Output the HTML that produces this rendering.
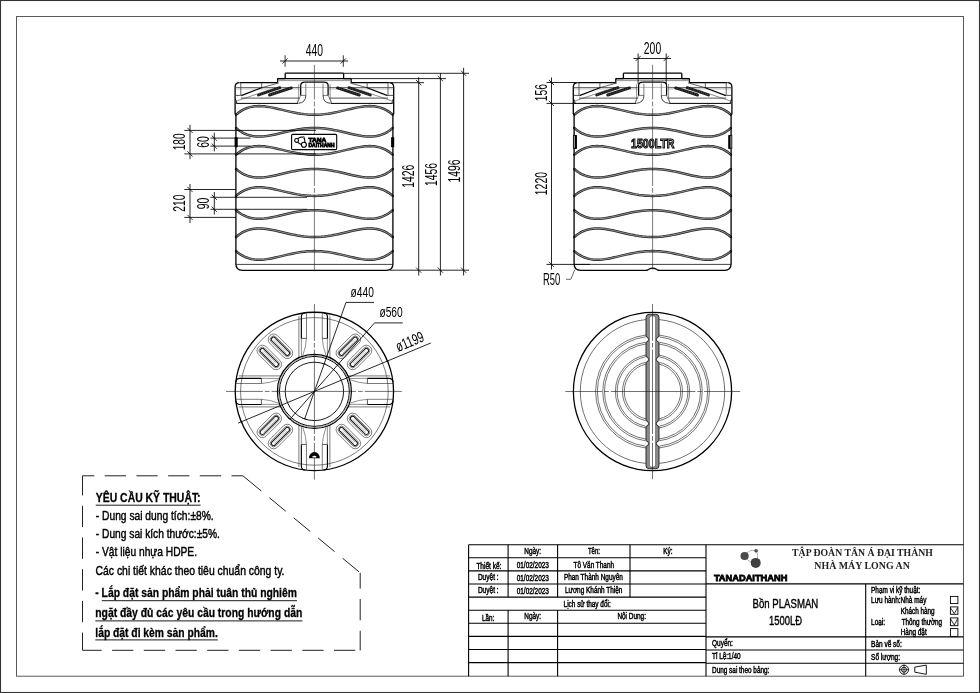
<!DOCTYPE html>
<html><head><meta charset="utf-8"><title>Bon PLASMAN 1500LD</title>
<style>
html,body{margin:0;padding:0;background:#fff;}
body{width:980px;height:693px;overflow:hidden;font-family:"Liberation Sans",sans-serif;}
svg{display:block;filter:grayscale(100%);}
text{white-space:pre;}
</style></head><body>
<svg width="980" height="693" viewBox="0 0 980 693">
<rect x="0" y="0" width="980" height="693" fill="#fff"/>
<rect x="0.5" y="0.5" width="979" height="692" fill="none" stroke="#333" stroke-width="1.1"/>
<rect x="16.5" y="16.5" width="947" height="659.7" fill="none" stroke="#5a5a5a" stroke-width="1"/>
<line x1="468.60" y1="544.70" x2="963.50" y2="544.70" stroke="#000" stroke-width="1.1" />
<line x1="468.60" y1="557.80" x2="706.00" y2="557.80" stroke="#000" stroke-width="1.1" />
<line x1="468.60" y1="570.90" x2="706.00" y2="570.90" stroke="#000" stroke-width="1.1" />
<line x1="468.60" y1="584.00" x2="706.00" y2="584.00" stroke="#000" stroke-width="1.1" />
<line x1="468.60" y1="597.10" x2="706.00" y2="597.10" stroke="#000" stroke-width="1.1" />
<line x1="468.60" y1="610.20" x2="706.00" y2="610.20" stroke="#000" stroke-width="1.1" />
<line x1="468.60" y1="623.30" x2="706.00" y2="623.30" stroke="#000" stroke-width="1.1" />
<line x1="468.60" y1="636.40" x2="706.00" y2="636.40" stroke="#000" stroke-width="1.1" />
<line x1="468.60" y1="649.50" x2="706.00" y2="649.50" stroke="#000" stroke-width="1.1" />
<line x1="468.60" y1="662.60" x2="706.00" y2="662.60" stroke="#000" stroke-width="1.1" />
<line x1="468.60" y1="544.70" x2="468.60" y2="676.20" stroke="#000" stroke-width="1.1" />
<line x1="706.00" y1="544.70" x2="706.00" y2="676.20" stroke="#000" stroke-width="1.1" />
<line x1="508.10" y1="544.70" x2="508.10" y2="597.10" stroke="#000" stroke-width="1.1" />
<line x1="508.10" y1="610.20" x2="508.10" y2="676.20" stroke="#000" stroke-width="1.1" />
<line x1="557.60" y1="544.70" x2="557.60" y2="597.10" stroke="#000" stroke-width="1.1" />
<line x1="557.60" y1="610.20" x2="557.60" y2="676.20" stroke="#000" stroke-width="1.1" />
<line x1="630.00" y1="544.70" x2="630.00" y2="597.10" stroke="#000" stroke-width="1.1" />
<line x1="706.00" y1="583.90" x2="963.50" y2="583.90" stroke="#000" stroke-width="1.1" />
<line x1="706.00" y1="636.90" x2="963.50" y2="636.90" stroke="#000" stroke-width="1.1" />
<line x1="706.00" y1="650.00" x2="963.50" y2="650.00" stroke="#000" stroke-width="1.1" />
<line x1="706.00" y1="663.30" x2="963.50" y2="663.30" stroke="#000" stroke-width="1.1" />
<line x1="865.70" y1="583.90" x2="865.70" y2="676.20" stroke="#000" stroke-width="1.1" />
<text x="524.30" y="553.60" font-family="Liberation Sans" font-size="8.3" font-weight="normal" text-anchor="start" fill="#000" textLength="16.80" lengthAdjust="spacingAndGlyphs" stroke="#000" stroke-width="0.45">Ngày:</text>
<text x="587.90" y="554.00" font-family="Liberation Sans" font-size="8.3" font-weight="normal" text-anchor="start" fill="#000" textLength="12.10" lengthAdjust="spacingAndGlyphs" stroke="#000" stroke-width="0.45">Tên:</text>
<text x="663.30" y="553.60" font-family="Liberation Sans" font-size="8.3" font-weight="normal" text-anchor="start" fill="#000" textLength="9.30" lengthAdjust="spacingAndGlyphs" stroke="#000" stroke-width="0.45">Ký:</text>
<text x="476.40" y="568.60" font-family="Liberation Sans" font-size="8.3" font-weight="normal" text-anchor="start" fill="#000" textLength="25.00" lengthAdjust="spacingAndGlyphs" stroke="#000" stroke-width="0.45">Thiết kế:</text>
<text x="477.90" y="580.00" font-family="Liberation Sans" font-size="8.3" font-weight="normal" text-anchor="start" fill="#000" textLength="20.70" lengthAdjust="spacingAndGlyphs" stroke="#000" stroke-width="0.45">Duyệt :</text>
<text x="477.90" y="593.30" font-family="Liberation Sans" font-size="8.3" font-weight="normal" text-anchor="start" fill="#000" textLength="20.70" lengthAdjust="spacingAndGlyphs" stroke="#000" stroke-width="0.45">Duyệt :</text>
<text x="516.70" y="567.60" font-family="Liberation Sans" font-size="8.3" font-weight="normal" text-anchor="start" fill="#000" textLength="32.20" lengthAdjust="spacingAndGlyphs" stroke="#000" stroke-width="0.45">01/02/2023</text>
<text x="516.70" y="580.70" font-family="Liberation Sans" font-size="8.3" font-weight="normal" text-anchor="start" fill="#000" textLength="32.20" lengthAdjust="spacingAndGlyphs" stroke="#000" stroke-width="0.45">01/02/2023</text>
<text x="516.70" y="593.90" font-family="Liberation Sans" font-size="8.3" font-weight="normal" text-anchor="start" fill="#000" textLength="32.20" lengthAdjust="spacingAndGlyphs" stroke="#000" stroke-width="0.45">01/02/2023</text>
<text x="573.60" y="567.60" font-family="Liberation Sans" font-size="8.3" font-weight="normal" text-anchor="start" fill="#000" textLength="40.40" lengthAdjust="spacingAndGlyphs" stroke="#000" stroke-width="0.45">Tô Văn Thanh</text>
<text x="563.90" y="580.00" font-family="Liberation Sans" font-size="8.3" font-weight="normal" text-anchor="start" fill="#000" textLength="59.00" lengthAdjust="spacingAndGlyphs" stroke="#000" stroke-width="0.45">Phan Thành Nguyên</text>
<text x="565.00" y="593.30" font-family="Liberation Sans" font-size="8.3" font-weight="normal" text-anchor="start" fill="#000" textLength="57.40" lengthAdjust="spacingAndGlyphs" stroke="#000" stroke-width="0.45">Lương Khánh Thiện</text>
<text x="563.60" y="606.70" font-family="Liberation Sans" font-size="8.3" font-weight="normal" text-anchor="start" fill="#000" textLength="47.10" lengthAdjust="spacingAndGlyphs" stroke="#000" stroke-width="0.45">Lịch sử thay đổi:</text>
<text x="482.10" y="621.10" font-family="Liberation Sans" font-size="8.3" font-weight="normal" text-anchor="start" fill="#000" textLength="12.20" lengthAdjust="spacingAndGlyphs" stroke="#000" stroke-width="0.45">Lần:</text>
<text x="524.30" y="619.30" font-family="Liberation Sans" font-size="8.3" font-weight="normal" text-anchor="start" fill="#000" textLength="16.80" lengthAdjust="spacingAndGlyphs" stroke="#000" stroke-width="0.45">Ngày:</text>
<text x="617.40" y="619.30" font-family="Liberation Sans" font-size="8.3" font-weight="normal" text-anchor="start" fill="#000" textLength="28.60" lengthAdjust="spacingAndGlyphs" stroke="#000" stroke-width="0.45">Nội Dung:</text>
<text x="871.10" y="592.90" font-family="Liberation Sans" font-size="8.3" font-weight="normal" text-anchor="start" fill="#000" textLength="49.20" lengthAdjust="spacingAndGlyphs" stroke="#000" stroke-width="0.45">Phạm vi kỹ thuật:</text>
<text x="871.10" y="602.60" font-family="Liberation Sans" font-size="8.3" font-weight="normal" text-anchor="start" fill="#000" textLength="55.30" lengthAdjust="spacingAndGlyphs" stroke="#000" stroke-width="0.45">Lưu hành:Nhà máy</text>
<text x="900.70" y="613.60" font-family="Liberation Sans" font-size="8.3" font-weight="normal" text-anchor="start" fill="#000" textLength="33.90" lengthAdjust="spacingAndGlyphs" stroke="#000" stroke-width="0.45">Khách hàng</text>
<text x="871.10" y="624.70" font-family="Liberation Sans" font-size="8.3" font-weight="normal" text-anchor="start" fill="#000" textLength="13.90" lengthAdjust="spacingAndGlyphs" stroke="#000" stroke-width="0.45">Loại:</text>
<text x="901.70" y="624.70" font-family="Liberation Sans" font-size="8.3" font-weight="normal" text-anchor="start" fill="#000" textLength="40.40" lengthAdjust="spacingAndGlyphs" stroke="#000" stroke-width="0.45">Thông thường</text>
<text x="900.70" y="635.00" font-family="Liberation Sans" font-size="8.3" font-weight="normal" text-anchor="start" fill="#000" textLength="26.00" lengthAdjust="spacingAndGlyphs" stroke="#000" stroke-width="0.45">Hàng đặt</text>
<text x="871.10" y="647.40" font-family="Liberation Sans" font-size="8.3" font-weight="normal" text-anchor="start" fill="#000" textLength="30.60" lengthAdjust="spacingAndGlyphs" stroke="#000" stroke-width="0.45">Bản vẽ số:</text>
<text x="871.10" y="659.60" font-family="Liberation Sans" font-size="8.3" font-weight="normal" text-anchor="start" fill="#000" textLength="28.90" lengthAdjust="spacingAndGlyphs" stroke="#000" stroke-width="0.45">Số lượng:</text>
<text x="712.00" y="646.40" font-family="Liberation Sans" font-size="8.3" font-weight="normal" text-anchor="start" fill="#000" textLength="20.90" lengthAdjust="spacingAndGlyphs" stroke="#000" stroke-width="0.45">Quyển:</text>
<text x="712.00" y="659.30" font-family="Liberation Sans" font-size="8.3" font-weight="normal" text-anchor="start" fill="#000" textLength="28.60" lengthAdjust="spacingAndGlyphs" stroke="#000" stroke-width="0.45">Tỉ Lệ:1/40</text>
<text x="712.00" y="672.70" font-family="Liberation Sans" font-size="8.3" font-weight="normal" text-anchor="start" fill="#000" textLength="57.40" lengthAdjust="spacingAndGlyphs" stroke="#000" stroke-width="0.45">Dung sai theo bảng:</text>
<rect x="950.4" y="596.4" width="7.5" height="7.20" fill="#fff" stroke="#000" stroke-width="0.9"/>
<rect x="950.4" y="606.9" width="7.5" height="7.40" fill="#fff" stroke="#000" stroke-width="0.9"/>
<polyline points="950.8,608.20 954.3,613.70 957.6,607.70" fill="none" stroke="#000" stroke-width="0.8"/>
<rect x="950.4" y="617.9" width="7.5" height="7.80" fill="#fff" stroke="#000" stroke-width="0.9"/>
<polyline points="950.8,619.20 954.3,625.10 957.6,618.70" fill="none" stroke="#000" stroke-width="0.8"/>
<rect x="950.4" y="628.6" width="7.5" height="7.80" fill="#fff" stroke="#000" stroke-width="0.9"/>
<circle cx="904" cy="669.7" r="4.5" fill="none" stroke="#000" stroke-width="0.9"/>
<circle cx="904" cy="669.7" r="2.5" fill="none" stroke="#000" stroke-width="0.9"/>
<line x1="898.80" y1="669.70" x2="909.20" y2="669.70" stroke="#000" stroke-width="0.7" />
<line x1="904.00" y1="664.50" x2="904.00" y2="674.90" stroke="#000" stroke-width="0.7" />
<polygon points="914.8,667.1 926.3,665.1 926.3,674.3 914.8,672.2" fill="none" stroke="#000" stroke-width="0.9"/>
<text x="752.60" y="608.30" font-family="Liberation Sans" font-size="13.4" font-weight="normal" text-anchor="start" fill="#000" textLength="65.70" lengthAdjust="spacingAndGlyphs" stroke="#000" stroke-width="0.4">Bồn PLASMAN</text>
<text x="769.00" y="624.70" font-family="Liberation Sans" font-size="13.4" font-weight="normal" text-anchor="start" fill="#000" textLength="33.10" lengthAdjust="spacingAndGlyphs" stroke="#000" stroke-width="0.4">1500LĐ</text>
<text x="792.10" y="555.80" font-family="Liberation Serif" font-size="9.9" font-weight="bold" text-anchor="start" fill="#222" textLength="140.80" lengthAdjust="spacingAndGlyphs" >TẬP ĐOÀN TÂN Á ĐẠI THÀNH</text>
<text x="814.30" y="568.70" font-family="Liberation Serif" font-size="9.9" font-weight="bold" text-anchor="start" fill="#222" textLength="95.50" lengthAdjust="spacingAndGlyphs" >NHÀ MÁY LONG AN</text>
<text x="713.90" y="580.70" font-family="Liberation Sans" font-size="9.9" font-weight="bold" text-anchor="start" fill="#000" textLength="73.50" lengthAdjust="spacingAndGlyphs" stroke="#000" stroke-width="0.85">TANADAITHANH</text>
<path d="M744.6,556 Q749,548.5 756.1,550.7 Q759.5,556 755.7,562.9 Q748,562.5 744.6,556" fill="none" stroke="#666" stroke-width="0.5"/>
<circle cx="744.6" cy="556" r="4.1" fill="#4a4a4a"/>
<circle cx="755.7" cy="562.9" r="5.0" fill="#404040"/>
<circle cx="756.1" cy="550.7" r="1.5" fill="#555" stroke="#333" stroke-width="0.5"/>
<polyline points="82.50,475.80 82.50,650.20" fill="none" stroke="#222" stroke-width="1.0" stroke-dasharray="21.3 10.4" stroke-dashoffset="1.7"/>
<polyline points="82.50,475.80 242.90,475.80" fill="none" stroke="#222" stroke-width="1.0" stroke-dasharray="21.3 10.4" stroke-dashoffset="9.5"/>
<polyline points="242.90,475.80 360.20,572.80" fill="none" stroke="#222" stroke-width="1.0" stroke-dasharray="23.9 10.4 21.3 10.4 21.3 10.4 21.3 10.4 21.3 10.4" stroke-dashoffset="0.0"/>
<polyline points="360.20,572.80 360.20,650.40" fill="none" stroke="#222" stroke-width="1.0" stroke-dasharray="21.3 10.4" stroke-dashoffset="5.5"/>
<polyline points="82.50,650.30 360.20,650.30" fill="none" stroke="#222" stroke-width="1.0" stroke-dasharray="21.3 10.4" stroke-dashoffset="2.1"/>
<text x="95.80" y="502.20" font-family="Liberation Sans" font-size="13" font-weight="bold" text-anchor="start" fill="#000" textLength="104.80" lengthAdjust="spacingAndGlyphs" stroke="#000" stroke-width="0.3">YÊU CẦU KỸ THUẬT:</text>
<line x1="95.80" y1="505.20" x2="200.60" y2="505.20" stroke="#000" stroke-width="0.9" />
<text x="95.80" y="520.30" font-family="Liberation Sans" font-size="13.4" font-weight="normal" text-anchor="start" fill="#000" textLength="117.90" lengthAdjust="spacingAndGlyphs" stroke="#000" stroke-width="0.45">- Dung sai dung tích:±8%.</text>
<text x="95.80" y="538.20" font-family="Liberation Sans" font-size="13.4" font-weight="normal" text-anchor="start" fill="#000" textLength="124.10" lengthAdjust="spacingAndGlyphs" stroke="#000" stroke-width="0.45">- Dung sai kích thước:±5%.</text>
<text x="95.80" y="555.70" font-family="Liberation Sans" font-size="13.4" font-weight="normal" text-anchor="start" fill="#000" textLength="101.20" lengthAdjust="spacingAndGlyphs" stroke="#000" stroke-width="0.45">- Vật liệu nhựa HDPE.</text>
<text x="95.50" y="575.30" font-family="Liberation Sans" font-size="13.4" font-weight="normal" text-anchor="start" fill="#000" textLength="189.00" lengthAdjust="spacingAndGlyphs" stroke="#000" stroke-width="0.45">Các chi tiết khác theo tiêu chuẩn công ty.</text>
<text x="95.30" y="597.30" font-family="Liberation Sans" font-size="13.2" font-weight="bold" text-anchor="start" fill="#000" textLength="201.60" lengthAdjust="spacingAndGlyphs" stroke="#000" stroke-width="0.3">- Lắp đặt sản phẩm phải tuân thủ nghiêm</text>
<line x1="101.80" y1="600.70" x2="297.00" y2="600.70" stroke="#000" stroke-width="0.9" />
<text x="95.30" y="617.00" font-family="Liberation Sans" font-size="13.2" font-weight="bold" text-anchor="start" fill="#000" textLength="207.00" lengthAdjust="spacingAndGlyphs" stroke="#000" stroke-width="0.3">ngặt đầy đủ các yêu cầu trong hướng dẫn</text>
<line x1="95.30" y1="620.90" x2="302.40" y2="620.90" stroke="#000" stroke-width="0.9" />
<text x="95.30" y="636.50" font-family="Liberation Sans" font-size="13.2" font-weight="bold" text-anchor="start" fill="#000" textLength="122.50" lengthAdjust="spacingAndGlyphs" stroke="#000" stroke-width="0.3">lắp đặt đi kèm sản phẩm.</text>
<line x1="95.30" y1="639.90" x2="217.90" y2="639.90" stroke="#000" stroke-width="0.9" />
<polyline points="236.10,114.70 236.17,114.63 236.40,114.44 236.77,114.12 237.29,113.69 237.96,113.16 238.77,112.55 239.72,111.87 240.82,111.15 242.06,110.40 243.44,109.65 244.95,108.93 246.59,108.25 248.36,107.64 250.26,107.11 252.28,106.68 254.42,106.36 256.67,106.17 259.03,106.10 261.50,106.17 264.07,106.36 266.73,106.68 269.49,107.11 272.33,107.64 275.25,108.25 278.25,108.93 281.31,109.65 284.44,110.40 287.62,111.15 290.85,111.87 294.13,112.55 297.45,113.16 300.80,113.69 304.18,114.12 307.58,114.44 310.98,114.63 314.40,114.70 317.82,114.63 321.22,114.44 324.62,114.12 328.00,113.69 331.35,113.16 334.67,112.55 337.95,111.87 341.18,111.15 344.36,110.40 347.49,109.65 350.55,108.93 353.55,108.25 356.47,107.64 359.31,107.11 362.07,106.68 364.73,106.36 367.30,106.17 369.77,106.10 372.13,106.17 374.38,106.36 376.52,106.68 378.54,107.11 380.44,107.64 382.21,108.25 383.85,108.93 385.36,109.65 386.74,110.40 387.98,111.15 389.08,111.87 390.03,112.55 390.84,113.16 391.51,113.69 392.03,114.12 392.40,114.44 392.63,114.63 392.70,114.70" fill="none" stroke="#262626" stroke-width="2.5" stroke-linecap="round"/>
<polyline points="236.10,114.70 236.17,114.63 236.40,114.44 236.77,114.12 237.29,113.69 237.96,113.16 238.77,112.55 239.72,111.87 240.82,111.15 242.06,110.40 243.44,109.65 244.95,108.93 246.59,108.25 248.36,107.64 250.26,107.11 252.28,106.68 254.42,106.36 256.67,106.17 259.03,106.10 261.50,106.17 264.07,106.36 266.73,106.68 269.49,107.11 272.33,107.64 275.25,108.25 278.25,108.93 281.31,109.65 284.44,110.40 287.62,111.15 290.85,111.87 294.13,112.55 297.45,113.16 300.80,113.69 304.18,114.12 307.58,114.44 310.98,114.63 314.40,114.70 317.82,114.63 321.22,114.44 324.62,114.12 328.00,113.69 331.35,113.16 334.67,112.55 337.95,111.87 341.18,111.15 344.36,110.40 347.49,109.65 350.55,108.93 353.55,108.25 356.47,107.64 359.31,107.11 362.07,106.68 364.73,106.36 367.30,106.17 369.77,106.10 372.13,106.17 374.38,106.36 376.52,106.68 378.54,107.11 380.44,107.64 382.21,108.25 383.85,108.93 385.36,109.65 386.74,110.40 387.98,111.15 389.08,111.87 390.03,112.55 390.84,113.16 391.51,113.69 392.03,114.12 392.40,114.44 392.63,114.63 392.70,114.70" fill="none" stroke="#b8b8b8" stroke-width="0.75"/>
<polyline points="236.10,154.70 236.17,154.63 236.40,154.44 236.77,154.12 237.29,153.69 237.96,153.16 238.77,152.55 239.72,151.87 240.82,151.15 242.06,150.40 243.44,149.65 244.95,148.93 246.59,148.25 248.36,147.64 250.26,147.11 252.28,146.68 254.42,146.36 256.67,146.17 259.03,146.10 261.50,146.17 264.07,146.36 266.73,146.68 269.49,147.11 272.33,147.64 275.25,148.25 278.25,148.93 281.31,149.65 284.44,150.40 287.62,151.15 290.85,151.87 294.13,152.55 297.45,153.16 300.80,153.69 304.18,154.12 307.58,154.44 310.98,154.63 314.40,154.70 317.82,154.63 321.22,154.44 324.62,154.12 328.00,153.69 331.35,153.16 334.67,152.55 337.95,151.87 341.18,151.15 344.36,150.40 347.49,149.65 350.55,148.93 353.55,148.25 356.47,147.64 359.31,147.11 362.07,146.68 364.73,146.36 367.30,146.17 369.77,146.10 372.13,146.17 374.38,146.36 376.52,146.68 378.54,147.11 380.44,147.64 382.21,148.25 383.85,148.93 385.36,149.65 386.74,150.40 387.98,151.15 389.08,151.87 390.03,152.55 390.84,153.16 391.51,153.69 392.03,154.12 392.40,154.44 392.63,154.63 392.70,154.70" fill="none" stroke="#262626" stroke-width="2.5" stroke-linecap="round"/>
<polyline points="236.10,154.70 236.17,154.63 236.40,154.44 236.77,154.12 237.29,153.69 237.96,153.16 238.77,152.55 239.72,151.87 240.82,151.15 242.06,150.40 243.44,149.65 244.95,148.93 246.59,148.25 248.36,147.64 250.26,147.11 252.28,146.68 254.42,146.36 256.67,146.17 259.03,146.10 261.50,146.17 264.07,146.36 266.73,146.68 269.49,147.11 272.33,147.64 275.25,148.25 278.25,148.93 281.31,149.65 284.44,150.40 287.62,151.15 290.85,151.87 294.13,152.55 297.45,153.16 300.80,153.69 304.18,154.12 307.58,154.44 310.98,154.63 314.40,154.70 317.82,154.63 321.22,154.44 324.62,154.12 328.00,153.69 331.35,153.16 334.67,152.55 337.95,151.87 341.18,151.15 344.36,150.40 347.49,149.65 350.55,148.93 353.55,148.25 356.47,147.64 359.31,147.11 362.07,146.68 364.73,146.36 367.30,146.17 369.77,146.10 372.13,146.17 374.38,146.36 376.52,146.68 378.54,147.11 380.44,147.64 382.21,148.25 383.85,148.93 385.36,149.65 386.74,150.40 387.98,151.15 389.08,151.87 390.03,152.55 390.84,153.16 391.51,153.69 392.03,154.12 392.40,154.44 392.63,154.63 392.70,154.70" fill="none" stroke="#b8b8b8" stroke-width="0.75"/>
<polyline points="236.10,195.90 236.17,195.83 236.40,195.64 236.77,195.32 237.29,194.89 237.96,194.36 238.77,193.75 239.72,193.07 240.82,192.35 242.06,191.60 243.44,190.85 244.95,190.13 246.59,189.45 248.36,188.84 250.26,188.31 252.28,187.88 254.42,187.56 256.67,187.37 259.03,187.30 261.50,187.37 264.07,187.56 266.73,187.88 269.49,188.31 272.33,188.84 275.25,189.45 278.25,190.13 281.31,190.85 284.44,191.60 287.62,192.35 290.85,193.07 294.13,193.75 297.45,194.36 300.80,194.89 304.18,195.32 307.58,195.64 310.98,195.83 314.40,195.90 317.82,195.83 321.22,195.64 324.62,195.32 328.00,194.89 331.35,194.36 334.67,193.75 337.95,193.07 341.18,192.35 344.36,191.60 347.49,190.85 350.55,190.13 353.55,189.45 356.47,188.84 359.31,188.31 362.07,187.88 364.73,187.56 367.30,187.37 369.77,187.30 372.13,187.37 374.38,187.56 376.52,187.88 378.54,188.31 380.44,188.84 382.21,189.45 383.85,190.13 385.36,190.85 386.74,191.60 387.98,192.35 389.08,193.07 390.03,193.75 390.84,194.36 391.51,194.89 392.03,195.32 392.40,195.64 392.63,195.83 392.70,195.90" fill="none" stroke="#262626" stroke-width="2.5" stroke-linecap="round"/>
<polyline points="236.10,195.90 236.17,195.83 236.40,195.64 236.77,195.32 237.29,194.89 237.96,194.36 238.77,193.75 239.72,193.07 240.82,192.35 242.06,191.60 243.44,190.85 244.95,190.13 246.59,189.45 248.36,188.84 250.26,188.31 252.28,187.88 254.42,187.56 256.67,187.37 259.03,187.30 261.50,187.37 264.07,187.56 266.73,187.88 269.49,188.31 272.33,188.84 275.25,189.45 278.25,190.13 281.31,190.85 284.44,191.60 287.62,192.35 290.85,193.07 294.13,193.75 297.45,194.36 300.80,194.89 304.18,195.32 307.58,195.64 310.98,195.83 314.40,195.90 317.82,195.83 321.22,195.64 324.62,195.32 328.00,194.89 331.35,194.36 334.67,193.75 337.95,193.07 341.18,192.35 344.36,191.60 347.49,190.85 350.55,190.13 353.55,189.45 356.47,188.84 359.31,188.31 362.07,187.88 364.73,187.56 367.30,187.37 369.77,187.30 372.13,187.37 374.38,187.56 376.52,187.88 378.54,188.31 380.44,188.84 382.21,189.45 383.85,190.13 385.36,190.85 386.74,191.60 387.98,192.35 389.08,193.07 390.03,193.75 390.84,194.36 391.51,194.89 392.03,195.32 392.40,195.64 392.63,195.83 392.70,195.90" fill="none" stroke="#b8b8b8" stroke-width="0.75"/>
<polyline points="236.10,237.00 236.17,236.93 236.40,236.74 236.77,236.42 237.29,235.99 237.96,235.46 238.77,234.85 239.72,234.17 240.82,233.45 242.06,232.70 243.44,231.95 244.95,231.23 246.59,230.55 248.36,229.94 250.26,229.41 252.28,228.98 254.42,228.66 256.67,228.47 259.03,228.40 261.50,228.47 264.07,228.66 266.73,228.98 269.49,229.41 272.33,229.94 275.25,230.55 278.25,231.23 281.31,231.95 284.44,232.70 287.62,233.45 290.85,234.17 294.13,234.85 297.45,235.46 300.80,235.99 304.18,236.42 307.58,236.74 310.98,236.93 314.40,237.00 317.82,236.93 321.22,236.74 324.62,236.42 328.00,235.99 331.35,235.46 334.67,234.85 337.95,234.17 341.18,233.45 344.36,232.70 347.49,231.95 350.55,231.23 353.55,230.55 356.47,229.94 359.31,229.41 362.07,228.98 364.73,228.66 367.30,228.47 369.77,228.40 372.13,228.47 374.38,228.66 376.52,228.98 378.54,229.41 380.44,229.94 382.21,230.55 383.85,231.23 385.36,231.95 386.74,232.70 387.98,233.45 389.08,234.17 390.03,234.85 390.84,235.46 391.51,235.99 392.03,236.42 392.40,236.74 392.63,236.93 392.70,237.00" fill="none" stroke="#262626" stroke-width="2.5" stroke-linecap="round"/>
<polyline points="236.10,237.00 236.17,236.93 236.40,236.74 236.77,236.42 237.29,235.99 237.96,235.46 238.77,234.85 239.72,234.17 240.82,233.45 242.06,232.70 243.44,231.95 244.95,231.23 246.59,230.55 248.36,229.94 250.26,229.41 252.28,228.98 254.42,228.66 256.67,228.47 259.03,228.40 261.50,228.47 264.07,228.66 266.73,228.98 269.49,229.41 272.33,229.94 275.25,230.55 278.25,231.23 281.31,231.95 284.44,232.70 287.62,233.45 290.85,234.17 294.13,234.85 297.45,235.46 300.80,235.99 304.18,236.42 307.58,236.74 310.98,236.93 314.40,237.00 317.82,236.93 321.22,236.74 324.62,236.42 328.00,235.99 331.35,235.46 334.67,234.85 337.95,234.17 341.18,233.45 344.36,232.70 347.49,231.95 350.55,231.23 353.55,230.55 356.47,229.94 359.31,229.41 362.07,228.98 364.73,228.66 367.30,228.47 369.77,228.40 372.13,228.47 374.38,228.66 376.52,228.98 378.54,229.41 380.44,229.94 382.21,230.55 383.85,231.23 385.36,231.95 386.74,232.70 387.98,233.45 389.08,234.17 390.03,234.85 390.84,235.46 391.51,235.99 392.03,236.42 392.40,236.74 392.63,236.93 392.70,237.00" fill="none" stroke="#b8b8b8" stroke-width="0.75"/>
<polyline points="236.10,128.00 236.17,128.07 236.40,128.26 236.77,128.58 237.29,129.01 237.96,129.54 238.77,130.15 239.72,130.83 240.82,131.55 242.06,132.30 243.44,133.05 244.95,133.77 246.59,134.45 248.36,135.06 250.26,135.59 252.28,136.02 254.42,136.34 256.67,136.53 259.03,136.60 261.50,136.53 264.07,136.34 266.73,136.02 269.49,135.59 272.33,135.06 275.25,134.45 278.25,133.77 281.31,133.05 284.44,132.30 287.62,131.55 290.85,130.83 294.13,130.15 297.45,129.54 300.80,129.01 304.18,128.58 307.58,128.26 310.98,128.07 314.40,128.00 317.82,128.07 321.22,128.26 324.62,128.58 328.00,129.01 331.35,129.54 334.67,130.15 337.95,130.83 341.18,131.55 344.36,132.30 347.49,133.05 350.55,133.77 353.55,134.45 356.47,135.06 359.31,135.59 362.07,136.02 364.73,136.34 367.30,136.53 369.77,136.60 372.13,136.53 374.38,136.34 376.52,136.02 378.54,135.59 380.44,135.06 382.21,134.45 383.85,133.77 385.36,133.05 386.74,132.30 387.98,131.55 389.08,130.83 390.03,130.15 390.84,129.54 391.51,129.01 392.03,128.58 392.40,128.26 392.63,128.07 392.70,128.00" fill="none" stroke="#262626" stroke-width="2.5" stroke-linecap="round"/>
<polyline points="236.10,128.00 236.17,128.07 236.40,128.26 236.77,128.58 237.29,129.01 237.96,129.54 238.77,130.15 239.72,130.83 240.82,131.55 242.06,132.30 243.44,133.05 244.95,133.77 246.59,134.45 248.36,135.06 250.26,135.59 252.28,136.02 254.42,136.34 256.67,136.53 259.03,136.60 261.50,136.53 264.07,136.34 266.73,136.02 269.49,135.59 272.33,135.06 275.25,134.45 278.25,133.77 281.31,133.05 284.44,132.30 287.62,131.55 290.85,130.83 294.13,130.15 297.45,129.54 300.80,129.01 304.18,128.58 307.58,128.26 310.98,128.07 314.40,128.00 317.82,128.07 321.22,128.26 324.62,128.58 328.00,129.01 331.35,129.54 334.67,130.15 337.95,130.83 341.18,131.55 344.36,132.30 347.49,133.05 350.55,133.77 353.55,134.45 356.47,135.06 359.31,135.59 362.07,136.02 364.73,136.34 367.30,136.53 369.77,136.60 372.13,136.53 374.38,136.34 376.52,136.02 378.54,135.59 380.44,135.06 382.21,134.45 383.85,133.77 385.36,133.05 386.74,132.30 387.98,131.55 389.08,130.83 390.03,130.15 390.84,129.54 391.51,129.01 392.03,128.58 392.40,128.26 392.63,128.07 392.70,128.00" fill="none" stroke="#b8b8b8" stroke-width="0.75"/>
<polyline points="236.10,169.00 236.17,169.07 236.40,169.26 236.77,169.58 237.29,170.01 237.96,170.54 238.77,171.15 239.72,171.83 240.82,172.55 242.06,173.30 243.44,174.05 244.95,174.77 246.59,175.45 248.36,176.06 250.26,176.59 252.28,177.02 254.42,177.34 256.67,177.53 259.03,177.60 261.50,177.53 264.07,177.34 266.73,177.02 269.49,176.59 272.33,176.06 275.25,175.45 278.25,174.77 281.31,174.05 284.44,173.30 287.62,172.55 290.85,171.83 294.13,171.15 297.45,170.54 300.80,170.01 304.18,169.58 307.58,169.26 310.98,169.07 314.40,169.00 317.82,169.07 321.22,169.26 324.62,169.58 328.00,170.01 331.35,170.54 334.67,171.15 337.95,171.83 341.18,172.55 344.36,173.30 347.49,174.05 350.55,174.77 353.55,175.45 356.47,176.06 359.31,176.59 362.07,177.02 364.73,177.34 367.30,177.53 369.77,177.60 372.13,177.53 374.38,177.34 376.52,177.02 378.54,176.59 380.44,176.06 382.21,175.45 383.85,174.77 385.36,174.05 386.74,173.30 387.98,172.55 389.08,171.83 390.03,171.15 390.84,170.54 391.51,170.01 392.03,169.58 392.40,169.26 392.63,169.07 392.70,169.00" fill="none" stroke="#262626" stroke-width="2.5" stroke-linecap="round"/>
<polyline points="236.10,169.00 236.17,169.07 236.40,169.26 236.77,169.58 237.29,170.01 237.96,170.54 238.77,171.15 239.72,171.83 240.82,172.55 242.06,173.30 243.44,174.05 244.95,174.77 246.59,175.45 248.36,176.06 250.26,176.59 252.28,177.02 254.42,177.34 256.67,177.53 259.03,177.60 261.50,177.53 264.07,177.34 266.73,177.02 269.49,176.59 272.33,176.06 275.25,175.45 278.25,174.77 281.31,174.05 284.44,173.30 287.62,172.55 290.85,171.83 294.13,171.15 297.45,170.54 300.80,170.01 304.18,169.58 307.58,169.26 310.98,169.07 314.40,169.00 317.82,169.07 321.22,169.26 324.62,169.58 328.00,170.01 331.35,170.54 334.67,171.15 337.95,171.83 341.18,172.55 344.36,173.30 347.49,174.05 350.55,174.77 353.55,175.45 356.47,176.06 359.31,176.59 362.07,177.02 364.73,177.34 367.30,177.53 369.77,177.60 372.13,177.53 374.38,177.34 376.52,177.02 378.54,176.59 380.44,176.06 382.21,175.45 383.85,174.77 385.36,174.05 386.74,173.30 387.98,172.55 389.08,171.83 390.03,171.15 390.84,170.54 391.51,170.01 392.03,169.58 392.40,169.26 392.63,169.07 392.70,169.00" fill="none" stroke="#b8b8b8" stroke-width="0.75"/>
<polyline points="236.10,210.20 236.17,210.27 236.40,210.46 236.77,210.78 237.29,211.21 237.96,211.74 238.77,212.35 239.72,213.03 240.82,213.75 242.06,214.50 243.44,215.25 244.95,215.97 246.59,216.65 248.36,217.26 250.26,217.79 252.28,218.22 254.42,218.54 256.67,218.73 259.03,218.80 261.50,218.73 264.07,218.54 266.73,218.22 269.49,217.79 272.33,217.26 275.25,216.65 278.25,215.97 281.31,215.25 284.44,214.50 287.62,213.75 290.85,213.03 294.13,212.35 297.45,211.74 300.80,211.21 304.18,210.78 307.58,210.46 310.98,210.27 314.40,210.20 317.82,210.27 321.22,210.46 324.62,210.78 328.00,211.21 331.35,211.74 334.67,212.35 337.95,213.03 341.18,213.75 344.36,214.50 347.49,215.25 350.55,215.97 353.55,216.65 356.47,217.26 359.31,217.79 362.07,218.22 364.73,218.54 367.30,218.73 369.77,218.80 372.13,218.73 374.38,218.54 376.52,218.22 378.54,217.79 380.44,217.26 382.21,216.65 383.85,215.97 385.36,215.25 386.74,214.50 387.98,213.75 389.08,213.03 390.03,212.35 390.84,211.74 391.51,211.21 392.03,210.78 392.40,210.46 392.63,210.27 392.70,210.20" fill="none" stroke="#262626" stroke-width="2.5" stroke-linecap="round"/>
<polyline points="236.10,210.20 236.17,210.27 236.40,210.46 236.77,210.78 237.29,211.21 237.96,211.74 238.77,212.35 239.72,213.03 240.82,213.75 242.06,214.50 243.44,215.25 244.95,215.97 246.59,216.65 248.36,217.26 250.26,217.79 252.28,218.22 254.42,218.54 256.67,218.73 259.03,218.80 261.50,218.73 264.07,218.54 266.73,218.22 269.49,217.79 272.33,217.26 275.25,216.65 278.25,215.97 281.31,215.25 284.44,214.50 287.62,213.75 290.85,213.03 294.13,212.35 297.45,211.74 300.80,211.21 304.18,210.78 307.58,210.46 310.98,210.27 314.40,210.20 317.82,210.27 321.22,210.46 324.62,210.78 328.00,211.21 331.35,211.74 334.67,212.35 337.95,213.03 341.18,213.75 344.36,214.50 347.49,215.25 350.55,215.97 353.55,216.65 356.47,217.26 359.31,217.79 362.07,218.22 364.73,218.54 367.30,218.73 369.77,218.80 372.13,218.73 374.38,218.54 376.52,218.22 378.54,217.79 380.44,217.26 382.21,216.65 383.85,215.97 385.36,215.25 386.74,214.50 387.98,213.75 389.08,213.03 390.03,212.35 390.84,211.74 391.51,211.21 392.03,210.78 392.40,210.46 392.63,210.27 392.70,210.20" fill="none" stroke="#b8b8b8" stroke-width="0.75"/>
<polyline points="236.10,251.10 236.17,251.17 236.40,251.36 236.77,251.68 237.29,252.11 237.96,252.64 238.77,253.25 239.72,253.93 240.82,254.65 242.06,255.40 243.44,256.15 244.95,256.87 246.59,257.55 248.36,258.16 250.26,258.69 252.28,259.12 254.42,259.44 256.67,259.63 259.03,259.70 261.50,259.63 264.07,259.44 266.73,259.12 269.49,258.69 272.33,258.16 275.25,257.55 278.25,256.87 281.31,256.15 284.44,255.40 287.62,254.65 290.85,253.93 294.13,253.25 297.45,252.64 300.80,252.11 304.18,251.68 307.58,251.36 310.98,251.17 314.40,251.10 317.82,251.17 321.22,251.36 324.62,251.68 328.00,252.11 331.35,252.64 334.67,253.25 337.95,253.93 341.18,254.65 344.36,255.40 347.49,256.15 350.55,256.87 353.55,257.55 356.47,258.16 359.31,258.69 362.07,259.12 364.73,259.44 367.30,259.63 369.77,259.70 372.13,259.63 374.38,259.44 376.52,259.12 378.54,258.69 380.44,258.16 382.21,257.55 383.85,256.87 385.36,256.15 386.74,255.40 387.98,254.65 389.08,253.93 390.03,253.25 390.84,252.64 391.51,252.11 392.03,251.68 392.40,251.36 392.63,251.17 392.70,251.10" fill="none" stroke="#262626" stroke-width="2.5" stroke-linecap="round"/>
<polyline points="236.10,251.10 236.17,251.17 236.40,251.36 236.77,251.68 237.29,252.11 237.96,252.64 238.77,253.25 239.72,253.93 240.82,254.65 242.06,255.40 243.44,256.15 244.95,256.87 246.59,257.55 248.36,258.16 250.26,258.69 252.28,259.12 254.42,259.44 256.67,259.63 259.03,259.70 261.50,259.63 264.07,259.44 266.73,259.12 269.49,258.69 272.33,258.16 275.25,257.55 278.25,256.87 281.31,256.15 284.44,255.40 287.62,254.65 290.85,253.93 294.13,253.25 297.45,252.64 300.80,252.11 304.18,251.68 307.58,251.36 310.98,251.17 314.40,251.10 317.82,251.17 321.22,251.36 324.62,251.68 328.00,252.11 331.35,252.64 334.67,253.25 337.95,253.93 341.18,254.65 344.36,255.40 347.49,256.15 350.55,256.87 353.55,257.55 356.47,258.16 359.31,258.69 362.07,259.12 364.73,259.44 367.30,259.63 369.77,259.70 372.13,259.63 374.38,259.44 376.52,259.12 378.54,258.69 380.44,258.16 382.21,257.55 383.85,256.87 385.36,256.15 386.74,255.40 387.98,254.65 389.08,253.93 390.03,253.25 390.84,252.64 391.51,252.11 392.03,251.68 392.40,251.36 392.63,251.17 392.70,251.10" fill="none" stroke="#b8b8b8" stroke-width="0.75"/>
<path d="M239.60,82.6 Q235.10,82.6 235.10,87.1 L235.10,113.8 L235.90,114.6 L235.90,263.8 Q235.90,270.3 242.40,270.3 L386.40,270.3 Q392.90,270.3 392.90,263.8 L392.90,114.6 L393.70,113.8 L393.70,87.1 Q393.70,82.6 389.20,82.6" fill="none" stroke="#000" stroke-width="1.3"/>
<line x1="235.60" y1="264.40" x2="393.20" y2="264.40" stroke="#222" stroke-width="0.85" />
<line x1="239.90" y1="82.60" x2="277.60" y2="82.60" stroke="#000" stroke-width="1.3" />
<line x1="277.60" y1="82.60" x2="277.60" y2="78.60" stroke="#000" stroke-width="1.3" />
<line x1="277.60" y1="78.60" x2="285.20" y2="78.60" stroke="#000" stroke-width="1.3" />
<line x1="285.20" y1="78.60" x2="285.20" y2="73.20" stroke="#000" stroke-width="1.3" />
<line x1="235.40" y1="87.60" x2="299.70" y2="87.60" stroke="#444" stroke-width="0.85" />
<line x1="235.40" y1="89.00" x2="299.70" y2="89.00" stroke="#666" stroke-width="0.4" />
<line x1="235.40" y1="95.40" x2="240.80" y2="95.40" stroke="#333" stroke-width="0.85" />
<line x1="240.80" y1="98.10" x2="299.70" y2="98.10" stroke="#333" stroke-width="0.85" />
<line x1="236.20" y1="103.40" x2="298.10" y2="103.40" stroke="#000" stroke-width="1.0" />
<line x1="240.80" y1="82.60" x2="240.80" y2="95.40" stroke="#444" stroke-width="0.85" />
<line x1="261.70" y1="82.60" x2="261.70" y2="87.60" stroke="#444" stroke-width="0.85" />
<path d="M235.40,99 L236.60,101.5 L236.60,103.2" fill="none" stroke="#000" stroke-width="0.9"/>
<line x1="241.20" y1="95.60" x2="262.40" y2="87.50" stroke="#000" stroke-width="1.2" />
<line x1="262.40" y1="87.50" x2="278.90" y2="82.90" stroke="#222" stroke-width="0.7" />
<line x1="237.20" y1="100.80" x2="268.40" y2="90.20" stroke="#333" stroke-width="0.55" />
<line x1="258.50" y1="95.0" x2="279.80" y2="87.7" stroke="#1c1c1c" stroke-width="2.9" stroke-linecap="round"/>
<line x1="259.00" y1="94.8" x2="279.30" y2="87.9" stroke="#707070" stroke-width="0.8" stroke-dasharray="0.7 1.5"/>
<line x1="269.50" y1="95.0" x2="291.30" y2="87.9" stroke="#1c1c1c" stroke-width="2.9" stroke-linecap="round"/>
<line x1="270.00" y1="94.8" x2="290.80" y2="88.10000000000001" stroke="#707070" stroke-width="0.8" stroke-dasharray="0.7 1.5"/>
<path d="M298.70,84.2 L298.70,98 L297.30,103.3" fill="none" stroke="#333" stroke-width="0.55"/>
<path d="M304.90,82.1 Q300.70,82.1 300.70,85.4 L300.70,95.4" fill="none" stroke="#000" stroke-width="1.25"/>
<path d="M300.70,95.4 L297.30,103.3" fill="none" stroke="#333" stroke-width="0.5"/>
<line x1="305.80" y1="83.60" x2="305.80" y2="95.40" stroke="#222" stroke-width="0.6" />
<line x1="305.80" y1="95.40" x2="300.70" y2="95.40" stroke="#222" stroke-width="0.6" />
<path d="M305.80,95.4 Q305.80,102.6 298.50,103.3" fill="none" stroke="#111" stroke-width="0.8"/>
<line x1="388.90" y1="82.60" x2="351.20" y2="82.60" stroke="#000" stroke-width="1.3" />
<line x1="351.20" y1="82.60" x2="351.20" y2="78.60" stroke="#000" stroke-width="1.3" />
<line x1="351.20" y1="78.60" x2="343.60" y2="78.60" stroke="#000" stroke-width="1.3" />
<line x1="343.60" y1="78.60" x2="343.60" y2="73.20" stroke="#000" stroke-width="1.3" />
<line x1="393.40" y1="87.60" x2="329.10" y2="87.60" stroke="#444" stroke-width="0.85" />
<line x1="393.40" y1="89.00" x2="329.10" y2="89.00" stroke="#666" stroke-width="0.4" />
<line x1="393.40" y1="95.40" x2="388.00" y2="95.40" stroke="#333" stroke-width="0.85" />
<line x1="388.00" y1="98.10" x2="329.10" y2="98.10" stroke="#333" stroke-width="0.85" />
<line x1="392.60" y1="103.40" x2="330.70" y2="103.40" stroke="#000" stroke-width="1.0" />
<line x1="388.00" y1="82.60" x2="388.00" y2="95.40" stroke="#444" stroke-width="0.85" />
<line x1="367.10" y1="82.60" x2="367.10" y2="87.60" stroke="#444" stroke-width="0.85" />
<path d="M393.40,99 L392.20,101.5 L392.20,103.2" fill="none" stroke="#000" stroke-width="0.9"/>
<line x1="387.60" y1="95.60" x2="366.40" y2="87.50" stroke="#000" stroke-width="1.2" />
<line x1="366.40" y1="87.50" x2="349.90" y2="82.90" stroke="#222" stroke-width="0.7" />
<line x1="391.60" y1="100.80" x2="360.40" y2="90.20" stroke="#333" stroke-width="0.55" />
<line x1="370.30" y1="95.0" x2="349.00" y2="87.7" stroke="#1c1c1c" stroke-width="2.9" stroke-linecap="round"/>
<line x1="369.80" y1="94.8" x2="349.50" y2="87.9" stroke="#707070" stroke-width="0.8" stroke-dasharray="0.7 1.5"/>
<line x1="359.30" y1="95.0" x2="337.50" y2="87.9" stroke="#1c1c1c" stroke-width="2.9" stroke-linecap="round"/>
<line x1="358.80" y1="94.8" x2="338.00" y2="88.10000000000001" stroke="#707070" stroke-width="0.8" stroke-dasharray="0.7 1.5"/>
<path d="M330.10,84.2 L330.10,98 L331.50,103.3" fill="none" stroke="#333" stroke-width="0.55"/>
<path d="M323.90,82.1 Q328.10,82.1 328.10,85.4 L328.10,95.4" fill="none" stroke="#000" stroke-width="1.25"/>
<path d="M328.10,95.4 L331.50,103.3" fill="none" stroke="#333" stroke-width="0.5"/>
<line x1="323.00" y1="83.60" x2="323.00" y2="95.40" stroke="#222" stroke-width="0.6" />
<line x1="323.00" y1="95.40" x2="328.10" y2="95.40" stroke="#222" stroke-width="0.6" />
<path d="M323.00,95.4 Q323.00,102.6 330.30,103.3" fill="none" stroke="#111" stroke-width="0.8"/>
<line x1="285.20" y1="73.20" x2="343.60" y2="73.20" stroke="#000" stroke-width="1.3" />
<line x1="277.60" y1="78.60" x2="351.20" y2="78.60" stroke="#000" stroke-width="1.3" />
<line x1="304.90" y1="82.10" x2="323.90" y2="82.10" stroke="#000" stroke-width="1.25" />
<line x1="300.70" y1="87.40" x2="328.10" y2="87.40" stroke="#777" stroke-width="0.5" />
<line x1="277.60" y1="80.60" x2="351.20" y2="80.60" stroke="#777" stroke-width="0.8" />
<line x1="314.4" y1="64.8" x2="314.4" y2="271.2" stroke="#222" stroke-width="0.6" stroke-dasharray="77.7 1.9 4.9 2.0" stroke-dashoffset="43"/>
<rect x="234.6" y="137.2" width="3.1" height="10.0" fill="#000"/>
<rect x="391.1" y="137.2" width="3.1" height="10.0" fill="#000"/>
<rect x="291.6" y="134.4" width="45.1" height="15.2" rx="1.2" fill="#fff" stroke="#000" stroke-width="1.1"/>
<path d="M296.6,140.4 Q299,136.3 303.4,137.2 Q306,140.5 304,144.7 Q299,144.6 296.6,140.4Z" fill="none" stroke="#000" stroke-width="1.1"/>
<circle cx="296.6" cy="140.4" r="1.9" fill="#fff" stroke="#000" stroke-width="1.15"/>
<circle cx="303.9" cy="144.7" r="2.5" fill="#fff" stroke="#000" stroke-width="1.15"/>
<circle cx="303.6" cy="137.4" r="0.8" fill="#fff" stroke="#000" stroke-width="0.6"/>
<text x="308.50" y="141.50" font-family="Liberation Sans" font-size="5.8" font-weight="bold" text-anchor="start" fill="#000" textLength="17.80" lengthAdjust="spacingAndGlyphs" stroke="#000" stroke-width="0.8">TANA</text>
<text x="308.50" y="147.40" font-family="Liberation Sans" font-size="5.9" font-weight="bold" text-anchor="start" fill="#000" textLength="26.00" lengthAdjust="spacingAndGlyphs" stroke="#000" stroke-width="0.8">DAITHANH</text>
<line x1="285.10" y1="55.30" x2="285.10" y2="66.80" stroke="#000" stroke-width="0.8" />
<line x1="343.30" y1="55.30" x2="343.30" y2="66.80" stroke="#000" stroke-width="0.8" />
<line x1="280.00" y1="61.00" x2="348.20" y2="61.00" stroke="#222" stroke-width="1.0" />
<line x1="282.50" y1="63.60" x2="287.70" y2="58.40" stroke="#000" stroke-width="0.8" />
<line x1="340.70" y1="63.60" x2="345.90" y2="58.40" stroke="#000" stroke-width="0.8" />
<text x="314.30" y="56.00" font-family="Liberation Sans" font-size="16.2" font-weight="normal" text-anchor="middle" fill="#000" textLength="17.30" lengthAdjust="spacingAndGlyphs" >440</text>
<line x1="184.30" y1="130.40" x2="316.00" y2="130.40" stroke="#000" stroke-width="0.85" />
<line x1="184.30" y1="153.90" x2="316.00" y2="153.90" stroke="#000" stroke-width="0.85" />
<line x1="190.00" y1="124.90" x2="190.00" y2="159.20" stroke="#000" stroke-width="0.85" />
<line x1="187.40" y1="127.80" x2="192.60" y2="133.00" stroke="#000" stroke-width="0.8" />
<line x1="187.40" y1="151.30" x2="192.60" y2="156.50" stroke="#000" stroke-width="0.8" />
<line x1="210.40" y1="138.10" x2="250.60" y2="138.10" stroke="#000" stroke-width="0.85" />
<line x1="210.40" y1="146.10" x2="250.60" y2="146.10" stroke="#000" stroke-width="0.85" />
<line x1="214.30" y1="132.70" x2="214.30" y2="151.40" stroke="#000" stroke-width="0.85" />
<line x1="211.70" y1="135.50" x2="216.90" y2="140.70" stroke="#000" stroke-width="0.8" />
<line x1="211.70" y1="143.50" x2="216.90" y2="148.70" stroke="#000" stroke-width="0.8" />
<text x="185.10" y="141.80" font-family="Liberation Sans" font-size="16.2" font-weight="normal" text-anchor="middle" fill="#000" textLength="17.00" lengthAdjust="spacingAndGlyphs" transform="rotate(-90 185.10 141.80)" >180</text>
<text x="209.00" y="142.00" font-family="Liberation Sans" font-size="16.2" font-weight="normal" text-anchor="middle" fill="#000" textLength="11.60" lengthAdjust="spacingAndGlyphs" transform="rotate(-90 209.00 142.00)" >60</text>
<line x1="184.30" y1="189.50" x2="236.00" y2="189.50" stroke="#000" stroke-width="0.85" />
<line x1="184.30" y1="217.40" x2="236.00" y2="217.40" stroke="#000" stroke-width="0.85" />
<line x1="190.00" y1="184.00" x2="190.00" y2="223.00" stroke="#000" stroke-width="0.85" />
<line x1="187.40" y1="186.90" x2="192.60" y2="192.10" stroke="#000" stroke-width="0.8" />
<line x1="187.40" y1="214.80" x2="192.60" y2="220.00" stroke="#000" stroke-width="0.8" />
<line x1="210.40" y1="197.30" x2="307.00" y2="197.30" stroke="#000" stroke-width="0.85" />
<line x1="210.40" y1="209.30" x2="307.00" y2="209.30" stroke="#000" stroke-width="0.85" />
<line x1="214.30" y1="192.00" x2="214.30" y2="214.60" stroke="#000" stroke-width="0.85" />
<line x1="211.70" y1="194.70" x2="216.90" y2="199.90" stroke="#000" stroke-width="0.8" />
<line x1="211.70" y1="206.70" x2="216.90" y2="211.90" stroke="#000" stroke-width="0.8" />
<text x="185.10" y="203.00" font-family="Liberation Sans" font-size="16.2" font-weight="normal" text-anchor="middle" fill="#000" textLength="17.30" lengthAdjust="spacingAndGlyphs" transform="rotate(-90 185.10 203.00)" >210</text>
<text x="209.00" y="203.40" font-family="Liberation Sans" font-size="16.2" font-weight="normal" text-anchor="middle" fill="#000" textLength="11.60" lengthAdjust="spacingAndGlyphs" transform="rotate(-90 209.00 203.40)" >90</text>
<line x1="343.60" y1="73.30" x2="469.00" y2="73.30" stroke="#000" stroke-width="0.85" />
<line x1="351.50" y1="78.60" x2="446.00" y2="78.60" stroke="#000" stroke-width="0.85" />
<line x1="390.00" y1="82.70" x2="424.00" y2="82.70" stroke="#000" stroke-width="0.85" />
<line x1="390.00" y1="270.20" x2="469.00" y2="270.20" stroke="#000" stroke-width="0.85" />
<line x1="418.70" y1="77.20" x2="418.70" y2="275.50" stroke="#000" stroke-width="0.85" />
<line x1="416.10" y1="80.10" x2="421.30" y2="85.30" stroke="#000" stroke-width="0.8" />
<line x1="416.10" y1="267.60" x2="421.30" y2="272.80" stroke="#000" stroke-width="0.8" />
<line x1="440.40" y1="73.10" x2="440.40" y2="275.50" stroke="#000" stroke-width="0.85" />
<line x1="437.80" y1="76.00" x2="443.00" y2="81.20" stroke="#000" stroke-width="0.8" />
<line x1="437.80" y1="267.60" x2="443.00" y2="272.80" stroke="#000" stroke-width="0.8" />
<line x1="463.60" y1="67.80" x2="463.60" y2="275.50" stroke="#000" stroke-width="0.85" />
<line x1="461.00" y1="70.70" x2="466.20" y2="75.90" stroke="#000" stroke-width="0.8" />
<line x1="461.00" y1="267.60" x2="466.20" y2="272.80" stroke="#000" stroke-width="0.8" />
<text x="414.20" y="176.20" font-family="Liberation Sans" font-size="16.2" font-weight="normal" text-anchor="middle" fill="#000" textLength="23.10" lengthAdjust="spacingAndGlyphs" transform="rotate(-90 414.20 176.20)" >1426</text>
<text x="436.50" y="174.50" font-family="Liberation Sans" font-size="16.2" font-weight="normal" text-anchor="middle" fill="#000" textLength="23.10" lengthAdjust="spacingAndGlyphs" transform="rotate(-90 436.50 174.50)" >1456</text>
<text x="459.60" y="171.00" font-family="Liberation Sans" font-size="16.2" font-weight="normal" text-anchor="middle" fill="#000" textLength="23.10" lengthAdjust="spacingAndGlyphs" transform="rotate(-90 459.60 171.00)" >1496</text>
<polyline points="574.30,114.70 574.37,114.63 574.60,114.44 574.97,114.12 575.49,113.69 576.16,113.16 576.97,112.55 577.92,111.87 579.02,111.15 580.26,110.40 581.64,109.65 583.15,108.93 584.79,108.25 586.56,107.64 588.46,107.11 590.48,106.68 592.62,106.36 594.87,106.17 597.23,106.10 599.70,106.17 602.27,106.36 604.93,106.68 607.69,107.11 610.53,107.64 613.45,108.25 616.45,108.93 619.51,109.65 622.64,110.40 625.82,111.15 629.05,111.87 632.33,112.55 635.65,113.16 639.00,113.69 642.38,114.12 645.78,114.44 649.18,114.63 652.60,114.70 656.02,114.63 659.42,114.44 662.82,114.12 666.20,113.69 669.55,113.16 672.87,112.55 676.15,111.87 679.38,111.15 682.56,110.40 685.69,109.65 688.75,108.93 691.75,108.25 694.67,107.64 697.51,107.11 700.27,106.68 702.93,106.36 705.50,106.17 707.97,106.10 710.33,106.17 712.58,106.36 714.72,106.68 716.74,107.11 718.64,107.64 720.41,108.25 722.05,108.93 723.56,109.65 724.94,110.40 726.18,111.15 727.28,111.87 728.23,112.55 729.04,113.16 729.71,113.69 730.23,114.12 730.60,114.44 730.83,114.63 730.90,114.70" fill="none" stroke="#262626" stroke-width="2.5" stroke-linecap="round"/>
<polyline points="574.30,114.70 574.37,114.63 574.60,114.44 574.97,114.12 575.49,113.69 576.16,113.16 576.97,112.55 577.92,111.87 579.02,111.15 580.26,110.40 581.64,109.65 583.15,108.93 584.79,108.25 586.56,107.64 588.46,107.11 590.48,106.68 592.62,106.36 594.87,106.17 597.23,106.10 599.70,106.17 602.27,106.36 604.93,106.68 607.69,107.11 610.53,107.64 613.45,108.25 616.45,108.93 619.51,109.65 622.64,110.40 625.82,111.15 629.05,111.87 632.33,112.55 635.65,113.16 639.00,113.69 642.38,114.12 645.78,114.44 649.18,114.63 652.60,114.70 656.02,114.63 659.42,114.44 662.82,114.12 666.20,113.69 669.55,113.16 672.87,112.55 676.15,111.87 679.38,111.15 682.56,110.40 685.69,109.65 688.75,108.93 691.75,108.25 694.67,107.64 697.51,107.11 700.27,106.68 702.93,106.36 705.50,106.17 707.97,106.10 710.33,106.17 712.58,106.36 714.72,106.68 716.74,107.11 718.64,107.64 720.41,108.25 722.05,108.93 723.56,109.65 724.94,110.40 726.18,111.15 727.28,111.87 728.23,112.55 729.04,113.16 729.71,113.69 730.23,114.12 730.60,114.44 730.83,114.63 730.90,114.70" fill="none" stroke="#b8b8b8" stroke-width="0.75"/>
<polyline points="574.30,154.70 574.37,154.63 574.60,154.44 574.97,154.12 575.49,153.69 576.16,153.16 576.97,152.55 577.92,151.87 579.02,151.15 580.26,150.40 581.64,149.65 583.15,148.93 584.79,148.25 586.56,147.64 588.46,147.11 590.48,146.68 592.62,146.36 594.87,146.17 597.23,146.10 599.70,146.17 602.27,146.36 604.93,146.68 607.69,147.11 610.53,147.64 613.45,148.25 616.45,148.93 619.51,149.65 622.64,150.40 625.82,151.15 629.05,151.87 632.33,152.55 635.65,153.16 639.00,153.69 642.38,154.12 645.78,154.44 649.18,154.63 652.60,154.70 656.02,154.63 659.42,154.44 662.82,154.12 666.20,153.69 669.55,153.16 672.87,152.55 676.15,151.87 679.38,151.15 682.56,150.40 685.69,149.65 688.75,148.93 691.75,148.25 694.67,147.64 697.51,147.11 700.27,146.68 702.93,146.36 705.50,146.17 707.97,146.10 710.33,146.17 712.58,146.36 714.72,146.68 716.74,147.11 718.64,147.64 720.41,148.25 722.05,148.93 723.56,149.65 724.94,150.40 726.18,151.15 727.28,151.87 728.23,152.55 729.04,153.16 729.71,153.69 730.23,154.12 730.60,154.44 730.83,154.63 730.90,154.70" fill="none" stroke="#262626" stroke-width="2.5" stroke-linecap="round"/>
<polyline points="574.30,154.70 574.37,154.63 574.60,154.44 574.97,154.12 575.49,153.69 576.16,153.16 576.97,152.55 577.92,151.87 579.02,151.15 580.26,150.40 581.64,149.65 583.15,148.93 584.79,148.25 586.56,147.64 588.46,147.11 590.48,146.68 592.62,146.36 594.87,146.17 597.23,146.10 599.70,146.17 602.27,146.36 604.93,146.68 607.69,147.11 610.53,147.64 613.45,148.25 616.45,148.93 619.51,149.65 622.64,150.40 625.82,151.15 629.05,151.87 632.33,152.55 635.65,153.16 639.00,153.69 642.38,154.12 645.78,154.44 649.18,154.63 652.60,154.70 656.02,154.63 659.42,154.44 662.82,154.12 666.20,153.69 669.55,153.16 672.87,152.55 676.15,151.87 679.38,151.15 682.56,150.40 685.69,149.65 688.75,148.93 691.75,148.25 694.67,147.64 697.51,147.11 700.27,146.68 702.93,146.36 705.50,146.17 707.97,146.10 710.33,146.17 712.58,146.36 714.72,146.68 716.74,147.11 718.64,147.64 720.41,148.25 722.05,148.93 723.56,149.65 724.94,150.40 726.18,151.15 727.28,151.87 728.23,152.55 729.04,153.16 729.71,153.69 730.23,154.12 730.60,154.44 730.83,154.63 730.90,154.70" fill="none" stroke="#b8b8b8" stroke-width="0.75"/>
<polyline points="574.30,195.90 574.37,195.83 574.60,195.64 574.97,195.32 575.49,194.89 576.16,194.36 576.97,193.75 577.92,193.07 579.02,192.35 580.26,191.60 581.64,190.85 583.15,190.13 584.79,189.45 586.56,188.84 588.46,188.31 590.48,187.88 592.62,187.56 594.87,187.37 597.23,187.30 599.70,187.37 602.27,187.56 604.93,187.88 607.69,188.31 610.53,188.84 613.45,189.45 616.45,190.13 619.51,190.85 622.64,191.60 625.82,192.35 629.05,193.07 632.33,193.75 635.65,194.36 639.00,194.89 642.38,195.32 645.78,195.64 649.18,195.83 652.60,195.90 656.02,195.83 659.42,195.64 662.82,195.32 666.20,194.89 669.55,194.36 672.87,193.75 676.15,193.07 679.38,192.35 682.56,191.60 685.69,190.85 688.75,190.13 691.75,189.45 694.67,188.84 697.51,188.31 700.27,187.88 702.93,187.56 705.50,187.37 707.97,187.30 710.33,187.37 712.58,187.56 714.72,187.88 716.74,188.31 718.64,188.84 720.41,189.45 722.05,190.13 723.56,190.85 724.94,191.60 726.18,192.35 727.28,193.07 728.23,193.75 729.04,194.36 729.71,194.89 730.23,195.32 730.60,195.64 730.83,195.83 730.90,195.90" fill="none" stroke="#262626" stroke-width="2.5" stroke-linecap="round"/>
<polyline points="574.30,195.90 574.37,195.83 574.60,195.64 574.97,195.32 575.49,194.89 576.16,194.36 576.97,193.75 577.92,193.07 579.02,192.35 580.26,191.60 581.64,190.85 583.15,190.13 584.79,189.45 586.56,188.84 588.46,188.31 590.48,187.88 592.62,187.56 594.87,187.37 597.23,187.30 599.70,187.37 602.27,187.56 604.93,187.88 607.69,188.31 610.53,188.84 613.45,189.45 616.45,190.13 619.51,190.85 622.64,191.60 625.82,192.35 629.05,193.07 632.33,193.75 635.65,194.36 639.00,194.89 642.38,195.32 645.78,195.64 649.18,195.83 652.60,195.90 656.02,195.83 659.42,195.64 662.82,195.32 666.20,194.89 669.55,194.36 672.87,193.75 676.15,193.07 679.38,192.35 682.56,191.60 685.69,190.85 688.75,190.13 691.75,189.45 694.67,188.84 697.51,188.31 700.27,187.88 702.93,187.56 705.50,187.37 707.97,187.30 710.33,187.37 712.58,187.56 714.72,187.88 716.74,188.31 718.64,188.84 720.41,189.45 722.05,190.13 723.56,190.85 724.94,191.60 726.18,192.35 727.28,193.07 728.23,193.75 729.04,194.36 729.71,194.89 730.23,195.32 730.60,195.64 730.83,195.83 730.90,195.90" fill="none" stroke="#b8b8b8" stroke-width="0.75"/>
<polyline points="574.30,237.00 574.37,236.93 574.60,236.74 574.97,236.42 575.49,235.99 576.16,235.46 576.97,234.85 577.92,234.17 579.02,233.45 580.26,232.70 581.64,231.95 583.15,231.23 584.79,230.55 586.56,229.94 588.46,229.41 590.48,228.98 592.62,228.66 594.87,228.47 597.23,228.40 599.70,228.47 602.27,228.66 604.93,228.98 607.69,229.41 610.53,229.94 613.45,230.55 616.45,231.23 619.51,231.95 622.64,232.70 625.82,233.45 629.05,234.17 632.33,234.85 635.65,235.46 639.00,235.99 642.38,236.42 645.78,236.74 649.18,236.93 652.60,237.00 656.02,236.93 659.42,236.74 662.82,236.42 666.20,235.99 669.55,235.46 672.87,234.85 676.15,234.17 679.38,233.45 682.56,232.70 685.69,231.95 688.75,231.23 691.75,230.55 694.67,229.94 697.51,229.41 700.27,228.98 702.93,228.66 705.50,228.47 707.97,228.40 710.33,228.47 712.58,228.66 714.72,228.98 716.74,229.41 718.64,229.94 720.41,230.55 722.05,231.23 723.56,231.95 724.94,232.70 726.18,233.45 727.28,234.17 728.23,234.85 729.04,235.46 729.71,235.99 730.23,236.42 730.60,236.74 730.83,236.93 730.90,237.00" fill="none" stroke="#262626" stroke-width="2.5" stroke-linecap="round"/>
<polyline points="574.30,237.00 574.37,236.93 574.60,236.74 574.97,236.42 575.49,235.99 576.16,235.46 576.97,234.85 577.92,234.17 579.02,233.45 580.26,232.70 581.64,231.95 583.15,231.23 584.79,230.55 586.56,229.94 588.46,229.41 590.48,228.98 592.62,228.66 594.87,228.47 597.23,228.40 599.70,228.47 602.27,228.66 604.93,228.98 607.69,229.41 610.53,229.94 613.45,230.55 616.45,231.23 619.51,231.95 622.64,232.70 625.82,233.45 629.05,234.17 632.33,234.85 635.65,235.46 639.00,235.99 642.38,236.42 645.78,236.74 649.18,236.93 652.60,237.00 656.02,236.93 659.42,236.74 662.82,236.42 666.20,235.99 669.55,235.46 672.87,234.85 676.15,234.17 679.38,233.45 682.56,232.70 685.69,231.95 688.75,231.23 691.75,230.55 694.67,229.94 697.51,229.41 700.27,228.98 702.93,228.66 705.50,228.47 707.97,228.40 710.33,228.47 712.58,228.66 714.72,228.98 716.74,229.41 718.64,229.94 720.41,230.55 722.05,231.23 723.56,231.95 724.94,232.70 726.18,233.45 727.28,234.17 728.23,234.85 729.04,235.46 729.71,235.99 730.23,236.42 730.60,236.74 730.83,236.93 730.90,237.00" fill="none" stroke="#b8b8b8" stroke-width="0.75"/>
<polyline points="574.30,128.00 574.37,128.07 574.60,128.26 574.97,128.58 575.49,129.01 576.16,129.54 576.97,130.15 577.92,130.83 579.02,131.55 580.26,132.30 581.64,133.05 583.15,133.77 584.79,134.45 586.56,135.06 588.46,135.59 590.48,136.02 592.62,136.34 594.87,136.53 597.23,136.60 599.70,136.53 602.27,136.34 604.93,136.02 607.69,135.59 610.53,135.06 613.45,134.45 616.45,133.77 619.51,133.05 622.64,132.30 625.82,131.55 629.05,130.83 632.33,130.15 635.65,129.54 639.00,129.01 642.38,128.58 645.78,128.26 649.18,128.07 652.60,128.00 656.02,128.07 659.42,128.26 662.82,128.58 666.20,129.01 669.55,129.54 672.87,130.15 676.15,130.83 679.38,131.55 682.56,132.30 685.69,133.05 688.75,133.77 691.75,134.45 694.67,135.06 697.51,135.59 700.27,136.02 702.93,136.34 705.50,136.53 707.97,136.60 710.33,136.53 712.58,136.34 714.72,136.02 716.74,135.59 718.64,135.06 720.41,134.45 722.05,133.77 723.56,133.05 724.94,132.30 726.18,131.55 727.28,130.83 728.23,130.15 729.04,129.54 729.71,129.01 730.23,128.58 730.60,128.26 730.83,128.07 730.90,128.00" fill="none" stroke="#262626" stroke-width="2.5" stroke-linecap="round"/>
<polyline points="574.30,128.00 574.37,128.07 574.60,128.26 574.97,128.58 575.49,129.01 576.16,129.54 576.97,130.15 577.92,130.83 579.02,131.55 580.26,132.30 581.64,133.05 583.15,133.77 584.79,134.45 586.56,135.06 588.46,135.59 590.48,136.02 592.62,136.34 594.87,136.53 597.23,136.60 599.70,136.53 602.27,136.34 604.93,136.02 607.69,135.59 610.53,135.06 613.45,134.45 616.45,133.77 619.51,133.05 622.64,132.30 625.82,131.55 629.05,130.83 632.33,130.15 635.65,129.54 639.00,129.01 642.38,128.58 645.78,128.26 649.18,128.07 652.60,128.00 656.02,128.07 659.42,128.26 662.82,128.58 666.20,129.01 669.55,129.54 672.87,130.15 676.15,130.83 679.38,131.55 682.56,132.30 685.69,133.05 688.75,133.77 691.75,134.45 694.67,135.06 697.51,135.59 700.27,136.02 702.93,136.34 705.50,136.53 707.97,136.60 710.33,136.53 712.58,136.34 714.72,136.02 716.74,135.59 718.64,135.06 720.41,134.45 722.05,133.77 723.56,133.05 724.94,132.30 726.18,131.55 727.28,130.83 728.23,130.15 729.04,129.54 729.71,129.01 730.23,128.58 730.60,128.26 730.83,128.07 730.90,128.00" fill="none" stroke="#b8b8b8" stroke-width="0.75"/>
<polyline points="574.30,169.00 574.37,169.07 574.60,169.26 574.97,169.58 575.49,170.01 576.16,170.54 576.97,171.15 577.92,171.83 579.02,172.55 580.26,173.30 581.64,174.05 583.15,174.77 584.79,175.45 586.56,176.06 588.46,176.59 590.48,177.02 592.62,177.34 594.87,177.53 597.23,177.60 599.70,177.53 602.27,177.34 604.93,177.02 607.69,176.59 610.53,176.06 613.45,175.45 616.45,174.77 619.51,174.05 622.64,173.30 625.82,172.55 629.05,171.83 632.33,171.15 635.65,170.54 639.00,170.01 642.38,169.58 645.78,169.26 649.18,169.07 652.60,169.00 656.02,169.07 659.42,169.26 662.82,169.58 666.20,170.01 669.55,170.54 672.87,171.15 676.15,171.83 679.38,172.55 682.56,173.30 685.69,174.05 688.75,174.77 691.75,175.45 694.67,176.06 697.51,176.59 700.27,177.02 702.93,177.34 705.50,177.53 707.97,177.60 710.33,177.53 712.58,177.34 714.72,177.02 716.74,176.59 718.64,176.06 720.41,175.45 722.05,174.77 723.56,174.05 724.94,173.30 726.18,172.55 727.28,171.83 728.23,171.15 729.04,170.54 729.71,170.01 730.23,169.58 730.60,169.26 730.83,169.07 730.90,169.00" fill="none" stroke="#262626" stroke-width="2.5" stroke-linecap="round"/>
<polyline points="574.30,169.00 574.37,169.07 574.60,169.26 574.97,169.58 575.49,170.01 576.16,170.54 576.97,171.15 577.92,171.83 579.02,172.55 580.26,173.30 581.64,174.05 583.15,174.77 584.79,175.45 586.56,176.06 588.46,176.59 590.48,177.02 592.62,177.34 594.87,177.53 597.23,177.60 599.70,177.53 602.27,177.34 604.93,177.02 607.69,176.59 610.53,176.06 613.45,175.45 616.45,174.77 619.51,174.05 622.64,173.30 625.82,172.55 629.05,171.83 632.33,171.15 635.65,170.54 639.00,170.01 642.38,169.58 645.78,169.26 649.18,169.07 652.60,169.00 656.02,169.07 659.42,169.26 662.82,169.58 666.20,170.01 669.55,170.54 672.87,171.15 676.15,171.83 679.38,172.55 682.56,173.30 685.69,174.05 688.75,174.77 691.75,175.45 694.67,176.06 697.51,176.59 700.27,177.02 702.93,177.34 705.50,177.53 707.97,177.60 710.33,177.53 712.58,177.34 714.72,177.02 716.74,176.59 718.64,176.06 720.41,175.45 722.05,174.77 723.56,174.05 724.94,173.30 726.18,172.55 727.28,171.83 728.23,171.15 729.04,170.54 729.71,170.01 730.23,169.58 730.60,169.26 730.83,169.07 730.90,169.00" fill="none" stroke="#b8b8b8" stroke-width="0.75"/>
<polyline points="574.30,210.20 574.37,210.27 574.60,210.46 574.97,210.78 575.49,211.21 576.16,211.74 576.97,212.35 577.92,213.03 579.02,213.75 580.26,214.50 581.64,215.25 583.15,215.97 584.79,216.65 586.56,217.26 588.46,217.79 590.48,218.22 592.62,218.54 594.87,218.73 597.23,218.80 599.70,218.73 602.27,218.54 604.93,218.22 607.69,217.79 610.53,217.26 613.45,216.65 616.45,215.97 619.51,215.25 622.64,214.50 625.82,213.75 629.05,213.03 632.33,212.35 635.65,211.74 639.00,211.21 642.38,210.78 645.78,210.46 649.18,210.27 652.60,210.20 656.02,210.27 659.42,210.46 662.82,210.78 666.20,211.21 669.55,211.74 672.87,212.35 676.15,213.03 679.38,213.75 682.56,214.50 685.69,215.25 688.75,215.97 691.75,216.65 694.67,217.26 697.51,217.79 700.27,218.22 702.93,218.54 705.50,218.73 707.97,218.80 710.33,218.73 712.58,218.54 714.72,218.22 716.74,217.79 718.64,217.26 720.41,216.65 722.05,215.97 723.56,215.25 724.94,214.50 726.18,213.75 727.28,213.03 728.23,212.35 729.04,211.74 729.71,211.21 730.23,210.78 730.60,210.46 730.83,210.27 730.90,210.20" fill="none" stroke="#262626" stroke-width="2.5" stroke-linecap="round"/>
<polyline points="574.30,210.20 574.37,210.27 574.60,210.46 574.97,210.78 575.49,211.21 576.16,211.74 576.97,212.35 577.92,213.03 579.02,213.75 580.26,214.50 581.64,215.25 583.15,215.97 584.79,216.65 586.56,217.26 588.46,217.79 590.48,218.22 592.62,218.54 594.87,218.73 597.23,218.80 599.70,218.73 602.27,218.54 604.93,218.22 607.69,217.79 610.53,217.26 613.45,216.65 616.45,215.97 619.51,215.25 622.64,214.50 625.82,213.75 629.05,213.03 632.33,212.35 635.65,211.74 639.00,211.21 642.38,210.78 645.78,210.46 649.18,210.27 652.60,210.20 656.02,210.27 659.42,210.46 662.82,210.78 666.20,211.21 669.55,211.74 672.87,212.35 676.15,213.03 679.38,213.75 682.56,214.50 685.69,215.25 688.75,215.97 691.75,216.65 694.67,217.26 697.51,217.79 700.27,218.22 702.93,218.54 705.50,218.73 707.97,218.80 710.33,218.73 712.58,218.54 714.72,218.22 716.74,217.79 718.64,217.26 720.41,216.65 722.05,215.97 723.56,215.25 724.94,214.50 726.18,213.75 727.28,213.03 728.23,212.35 729.04,211.74 729.71,211.21 730.23,210.78 730.60,210.46 730.83,210.27 730.90,210.20" fill="none" stroke="#b8b8b8" stroke-width="0.75"/>
<polyline points="574.30,251.10 574.37,251.17 574.60,251.36 574.97,251.68 575.49,252.11 576.16,252.64 576.97,253.25 577.92,253.93 579.02,254.65 580.26,255.40 581.64,256.15 583.15,256.87 584.79,257.55 586.56,258.16 588.46,258.69 590.48,259.12 592.62,259.44 594.87,259.63 597.23,259.70 599.70,259.63 602.27,259.44 604.93,259.12 607.69,258.69 610.53,258.16 613.45,257.55 616.45,256.87 619.51,256.15 622.64,255.40 625.82,254.65 629.05,253.93 632.33,253.25 635.65,252.64 639.00,252.11 642.38,251.68 645.78,251.36 649.18,251.17 652.60,251.10 656.02,251.17 659.42,251.36 662.82,251.68 666.20,252.11 669.55,252.64 672.87,253.25 676.15,253.93 679.38,254.65 682.56,255.40 685.69,256.15 688.75,256.87 691.75,257.55 694.67,258.16 697.51,258.69 700.27,259.12 702.93,259.44 705.50,259.63 707.97,259.70 710.33,259.63 712.58,259.44 714.72,259.12 716.74,258.69 718.64,258.16 720.41,257.55 722.05,256.87 723.56,256.15 724.94,255.40 726.18,254.65 727.28,253.93 728.23,253.25 729.04,252.64 729.71,252.11 730.23,251.68 730.60,251.36 730.83,251.17 730.90,251.10" fill="none" stroke="#262626" stroke-width="2.5" stroke-linecap="round"/>
<polyline points="574.30,251.10 574.37,251.17 574.60,251.36 574.97,251.68 575.49,252.11 576.16,252.64 576.97,253.25 577.92,253.93 579.02,254.65 580.26,255.40 581.64,256.15 583.15,256.87 584.79,257.55 586.56,258.16 588.46,258.69 590.48,259.12 592.62,259.44 594.87,259.63 597.23,259.70 599.70,259.63 602.27,259.44 604.93,259.12 607.69,258.69 610.53,258.16 613.45,257.55 616.45,256.87 619.51,256.15 622.64,255.40 625.82,254.65 629.05,253.93 632.33,253.25 635.65,252.64 639.00,252.11 642.38,251.68 645.78,251.36 649.18,251.17 652.60,251.10 656.02,251.17 659.42,251.36 662.82,251.68 666.20,252.11 669.55,252.64 672.87,253.25 676.15,253.93 679.38,254.65 682.56,255.40 685.69,256.15 688.75,256.87 691.75,257.55 694.67,258.16 697.51,258.69 700.27,259.12 702.93,259.44 705.50,259.63 707.97,259.70 710.33,259.63 712.58,259.44 714.72,259.12 716.74,258.69 718.64,258.16 720.41,257.55 722.05,256.87 723.56,256.15 724.94,255.40 726.18,254.65 727.28,253.93 728.23,253.25 729.04,252.64 729.71,252.11 730.23,251.68 730.60,251.36 730.83,251.17 730.90,251.10" fill="none" stroke="#b8b8b8" stroke-width="0.75"/>
<path d="M577.80,82.6 Q573.30,82.6 573.30,87.1 L573.30,113.8 L574.10,114.6 L574.10,263.8 Q574.10,270.3 580.60,270.3 L724.60,270.3 Q731.10,270.3 731.10,263.8 L731.10,114.6 L731.90,113.8 L731.90,87.1 Q731.90,82.6 727.40,82.6" fill="none" stroke="#000" stroke-width="1.3"/>
<line x1="573.80" y1="264.40" x2="731.40" y2="264.40" stroke="#222" stroke-width="0.85" />
<line x1="578.10" y1="82.60" x2="615.80" y2="82.60" stroke="#000" stroke-width="1.3" />
<line x1="615.80" y1="82.60" x2="615.80" y2="78.60" stroke="#000" stroke-width="1.3" />
<line x1="615.80" y1="78.60" x2="623.40" y2="78.60" stroke="#000" stroke-width="1.3" />
<line x1="623.40" y1="78.60" x2="623.40" y2="73.20" stroke="#000" stroke-width="1.3" />
<line x1="573.60" y1="87.60" x2="637.60" y2="87.60" stroke="#444" stroke-width="0.85" />
<line x1="573.60" y1="89.00" x2="637.60" y2="89.00" stroke="#666" stroke-width="0.4" />
<line x1="573.60" y1="95.40" x2="579.00" y2="95.40" stroke="#333" stroke-width="0.85" />
<line x1="579.00" y1="98.10" x2="637.60" y2="98.10" stroke="#333" stroke-width="0.85" />
<line x1="574.40" y1="103.40" x2="636.00" y2="103.40" stroke="#000" stroke-width="1.0" />
<line x1="579.00" y1="82.60" x2="579.00" y2="95.40" stroke="#444" stroke-width="0.85" />
<line x1="599.90" y1="82.60" x2="599.90" y2="87.60" stroke="#444" stroke-width="0.85" />
<path d="M573.60,99 L574.80,101.5 L574.80,103.2" fill="none" stroke="#000" stroke-width="0.9"/>
<line x1="579.40" y1="95.60" x2="600.60" y2="87.50" stroke="#000" stroke-width="1.2" />
<line x1="600.60" y1="87.50" x2="617.10" y2="82.90" stroke="#222" stroke-width="0.7" />
<line x1="575.40" y1="100.80" x2="606.60" y2="90.20" stroke="#333" stroke-width="0.55" />
<line x1="596.70" y1="95.0" x2="618.00" y2="87.7" stroke="#1c1c1c" stroke-width="2.9" stroke-linecap="round"/>
<line x1="597.20" y1="94.8" x2="617.50" y2="87.9" stroke="#707070" stroke-width="0.8" stroke-dasharray="0.7 1.5"/>
<line x1="607.70" y1="95.0" x2="629.50" y2="87.9" stroke="#1c1c1c" stroke-width="2.9" stroke-linecap="round"/>
<line x1="608.20" y1="94.8" x2="629.00" y2="88.10000000000001" stroke="#707070" stroke-width="0.8" stroke-dasharray="0.7 1.5"/>
<path d="M636.60,84.2 L636.60,98 L635.20,103.3" fill="none" stroke="#333" stroke-width="0.55"/>
<path d="M642.80,82.1 Q638.60,82.1 638.60,85.4 L638.60,95.4" fill="none" stroke="#000" stroke-width="1.25"/>
<path d="M638.60,95.4 L635.20,103.3" fill="none" stroke="#333" stroke-width="0.5"/>
<line x1="643.90" y1="83.60" x2="643.90" y2="95.40" stroke="#222" stroke-width="0.6" />
<line x1="643.90" y1="95.40" x2="638.60" y2="95.40" stroke="#222" stroke-width="0.6" />
<path d="M643.90,95.4 Q643.90,102.6 636.40,103.3" fill="none" stroke="#111" stroke-width="0.8"/>
<line x1="727.10" y1="82.60" x2="689.40" y2="82.60" stroke="#000" stroke-width="1.3" />
<line x1="689.40" y1="82.60" x2="689.40" y2="78.60" stroke="#000" stroke-width="1.3" />
<line x1="689.40" y1="78.60" x2="681.80" y2="78.60" stroke="#000" stroke-width="1.3" />
<line x1="681.80" y1="78.60" x2="681.80" y2="73.20" stroke="#000" stroke-width="1.3" />
<line x1="731.60" y1="87.60" x2="667.60" y2="87.60" stroke="#444" stroke-width="0.85" />
<line x1="731.60" y1="89.00" x2="667.60" y2="89.00" stroke="#666" stroke-width="0.4" />
<line x1="731.60" y1="95.40" x2="726.20" y2="95.40" stroke="#333" stroke-width="0.85" />
<line x1="726.20" y1="98.10" x2="667.60" y2="98.10" stroke="#333" stroke-width="0.85" />
<line x1="730.80" y1="103.40" x2="669.20" y2="103.40" stroke="#000" stroke-width="1.0" />
<line x1="726.20" y1="82.60" x2="726.20" y2="95.40" stroke="#444" stroke-width="0.85" />
<line x1="705.30" y1="82.60" x2="705.30" y2="87.60" stroke="#444" stroke-width="0.85" />
<path d="M731.60,99 L730.40,101.5 L730.40,103.2" fill="none" stroke="#000" stroke-width="0.9"/>
<line x1="725.80" y1="95.60" x2="704.60" y2="87.50" stroke="#000" stroke-width="1.2" />
<line x1="704.60" y1="87.50" x2="688.10" y2="82.90" stroke="#222" stroke-width="0.7" />
<line x1="729.80" y1="100.80" x2="698.60" y2="90.20" stroke="#333" stroke-width="0.55" />
<line x1="708.50" y1="95.0" x2="687.20" y2="87.7" stroke="#1c1c1c" stroke-width="2.9" stroke-linecap="round"/>
<line x1="708.00" y1="94.8" x2="687.70" y2="87.9" stroke="#707070" stroke-width="0.8" stroke-dasharray="0.7 1.5"/>
<line x1="697.50" y1="95.0" x2="675.70" y2="87.9" stroke="#1c1c1c" stroke-width="2.9" stroke-linecap="round"/>
<line x1="697.00" y1="94.8" x2="676.20" y2="88.10000000000001" stroke="#707070" stroke-width="0.8" stroke-dasharray="0.7 1.5"/>
<path d="M668.60,84.2 L668.60,98 L670.00,103.3" fill="none" stroke="#333" stroke-width="0.55"/>
<path d="M662.40,82.1 Q666.60,82.1 666.60,85.4 L666.60,95.4" fill="none" stroke="#000" stroke-width="1.25"/>
<path d="M666.60,95.4 L670.00,103.3" fill="none" stroke="#333" stroke-width="0.5"/>
<line x1="661.30" y1="83.60" x2="661.30" y2="95.40" stroke="#222" stroke-width="0.6" />
<line x1="661.30" y1="95.40" x2="666.60" y2="95.40" stroke="#222" stroke-width="0.6" />
<path d="M661.30,95.4 Q661.30,102.6 668.80,103.3" fill="none" stroke="#111" stroke-width="0.8"/>
<line x1="623.40" y1="73.20" x2="681.80" y2="73.20" stroke="#000" stroke-width="1.3" />
<line x1="615.80" y1="78.60" x2="689.40" y2="78.60" stroke="#000" stroke-width="1.3" />
<line x1="642.80" y1="82.10" x2="662.40" y2="82.10" stroke="#000" stroke-width="1.25" />
<line x1="638.60" y1="87.40" x2="666.60" y2="87.40" stroke="#777" stroke-width="0.5" />
<line x1="615.80" y1="80.60" x2="689.40" y2="80.60" stroke="#777" stroke-width="0.8" />
<line x1="652.6" y1="64.8" x2="652.6" y2="271.2" stroke="#222" stroke-width="0.6" stroke-dasharray="77.7 1.9 4.9 2.0" stroke-dashoffset="43"/>
<rect x="647.4" y="269.4" width="10.4" height="2" fill="#fff"/>
<path d="M646.4,270.3 Q648.0,270.3 648.8000000000001,269.2 Q652.6,266.9 656.4,269.2 Q657.2,270.3 658.8000000000001,270.3" fill="none" stroke="#000" stroke-width="1.2"/>
<rect x="573.4" y="135.6" width="3.0" height="12.6" fill="#fff" stroke="#000" stroke-width="0.9"/>
<rect x="728.8" y="135.6" width="3.0" height="12.6" fill="#fff" stroke="#000" stroke-width="0.9"/>
<rect x="574.6" y="135.2" width="2.0" height="13.6" fill="#000"/>
<rect x="728.6" y="135.2" width="2.0" height="13.6" fill="#000"/>
<text x="652.80" y="147.60" font-family="Liberation Sans" font-size="13.2" font-weight="bold" text-anchor="middle" fill="#c0c0c0" textLength="43.50" lengthAdjust="spacingAndGlyphs" stroke="#000" stroke-width="1.05">1500LTR</text>
<line x1="638.10" y1="53.50" x2="638.10" y2="84.00" stroke="#000" stroke-width="0.85" />
<line x1="666.20" y1="53.50" x2="666.20" y2="84.00" stroke="#000" stroke-width="0.85" />
<line x1="633.50" y1="58.50" x2="671.00" y2="58.50" stroke="#000" stroke-width="0.85" />
<line x1="635.50" y1="61.10" x2="640.70" y2="55.90" stroke="#000" stroke-width="0.8" />
<line x1="663.60" y1="61.10" x2="668.80" y2="55.90" stroke="#000" stroke-width="0.8" />
<text x="652.50" y="53.60" font-family="Liberation Sans" font-size="16.2" font-weight="normal" text-anchor="middle" fill="#000" textLength="17.30" lengthAdjust="spacingAndGlyphs" >200</text>
<line x1="546.50" y1="82.50" x2="576.00" y2="82.50" stroke="#000" stroke-width="0.85" />
<line x1="546.50" y1="103.40" x2="576.00" y2="103.40" stroke="#000" stroke-width="0.85" />
<line x1="546.50" y1="264.40" x2="590.00" y2="264.40" stroke="#000" stroke-width="0.85" />
<line x1="551.50" y1="77.50" x2="551.50" y2="269.50" stroke="#000" stroke-width="0.85" />
<line x1="548.90" y1="79.90" x2="554.10" y2="85.10" stroke="#000" stroke-width="0.8" />
<line x1="548.90" y1="100.80" x2="554.10" y2="106.00" stroke="#000" stroke-width="0.8" />
<line x1="548.90" y1="261.80" x2="554.10" y2="267.00" stroke="#000" stroke-width="0.8" />
<text x="546.80" y="92.60" font-family="Liberation Sans" font-size="16.2" font-weight="normal" text-anchor="middle" fill="#000" textLength="17.30" lengthAdjust="spacingAndGlyphs" transform="rotate(-90 546.80 92.60)" >156</text>
<text x="546.80" y="183.60" font-family="Liberation Sans" font-size="16.2" font-weight="normal" text-anchor="middle" fill="#000" textLength="23.10" lengthAdjust="spacingAndGlyphs" transform="rotate(-90 546.80 183.60)" >1220</text>
<text x="543.00" y="284.60" font-family="Liberation Sans" font-size="16.2" font-weight="normal" text-anchor="start" fill="#000" textLength="17.30" lengthAdjust="spacingAndGlyphs" >R50</text>
<polyline points="566,279.3 570.8,279.3 574.8,269.6" fill="none" stroke="#000" stroke-width="0.6"/>
<g transform="translate(314.4 391.4)">
<circle r="79.15" fill="none" stroke="#000" stroke-width="1.3"/>
<circle r="73.8" fill="none" stroke="#222" stroke-width="0.6"/>
<g transform="rotate(0)">
<line x1="-75.6" y1="-15.5" x2="-33.6" y2="-15.5" stroke="#444" stroke-width="0.7"/>
<path d="M-53,-13.05 L-74.6,-13.05 Q-78.2,-13.05 -78.7,-9.2" fill="none" stroke="#000" stroke-width="1.15"/>
<line x1="-53" y1="-13.05" x2="-53" y2="-7.9" stroke="#111" stroke-width="0.7"/>
<line x1="-78.9" y1="-7.9" x2="-53" y2="-7.9" stroke="#222" stroke-width="0.6"/>
<path d="M-53,-13.05 L-34.8,-12.9" fill="none" stroke="#333" stroke-width="0.55"/>
<path d="M-53,-7.9 Q-45,-8.3 -36.0,-11.6" fill="none" stroke="#333" stroke-width="0.55"/>
<line x1="-75.6" y1="15.5" x2="-33.6" y2="15.5" stroke="#444" stroke-width="0.7"/>
<path d="M-53,13.05 L-74.6,13.05 Q-78.2,13.05 -78.7,9.2" fill="none" stroke="#000" stroke-width="1.15"/>
<line x1="-53" y1="13.05" x2="-53" y2="7.9" stroke="#111" stroke-width="0.7"/>
<line x1="-78.9" y1="7.9" x2="-53" y2="7.9" stroke="#222" stroke-width="0.6"/>
<path d="M-53,13.05 L-34.8,12.9" fill="none" stroke="#333" stroke-width="0.55"/>
<path d="M-53,7.9 Q-45,8.3 -36.0,11.6" fill="none" stroke="#333" stroke-width="0.55"/>
</g>
<g transform="rotate(90)">
<line x1="-75.6" y1="-15.5" x2="-33.6" y2="-15.5" stroke="#444" stroke-width="0.7"/>
<path d="M-53,-13.05 L-74.6,-13.05 Q-78.2,-13.05 -78.7,-9.2" fill="none" stroke="#000" stroke-width="1.15"/>
<line x1="-53" y1="-13.05" x2="-53" y2="-7.9" stroke="#111" stroke-width="0.7"/>
<line x1="-78.9" y1="-7.9" x2="-53" y2="-7.9" stroke="#222" stroke-width="0.6"/>
<path d="M-53,-13.05 L-34.8,-12.9" fill="none" stroke="#333" stroke-width="0.55"/>
<path d="M-53,-7.9 Q-45,-8.3 -36.0,-11.6" fill="none" stroke="#333" stroke-width="0.55"/>
<line x1="-75.6" y1="15.5" x2="-33.6" y2="15.5" stroke="#444" stroke-width="0.7"/>
<path d="M-53,13.05 L-74.6,13.05 Q-78.2,13.05 -78.7,9.2" fill="none" stroke="#000" stroke-width="1.15"/>
<line x1="-53" y1="13.05" x2="-53" y2="7.9" stroke="#111" stroke-width="0.7"/>
<line x1="-78.9" y1="7.9" x2="-53" y2="7.9" stroke="#222" stroke-width="0.6"/>
<path d="M-53,13.05 L-34.8,12.9" fill="none" stroke="#333" stroke-width="0.55"/>
<path d="M-53,7.9 Q-45,8.3 -36.0,11.6" fill="none" stroke="#333" stroke-width="0.55"/>
</g>
<g transform="rotate(180)">
<line x1="-75.6" y1="-15.5" x2="-33.6" y2="-15.5" stroke="#444" stroke-width="0.7"/>
<path d="M-53,-13.05 L-74.6,-13.05 Q-78.2,-13.05 -78.7,-9.2" fill="none" stroke="#000" stroke-width="1.15"/>
<line x1="-53" y1="-13.05" x2="-53" y2="-7.9" stroke="#111" stroke-width="0.7"/>
<line x1="-78.9" y1="-7.9" x2="-53" y2="-7.9" stroke="#222" stroke-width="0.6"/>
<path d="M-53,-13.05 L-34.8,-12.9" fill="none" stroke="#333" stroke-width="0.55"/>
<path d="M-53,-7.9 Q-45,-8.3 -36.0,-11.6" fill="none" stroke="#333" stroke-width="0.55"/>
<line x1="-75.6" y1="15.5" x2="-33.6" y2="15.5" stroke="#444" stroke-width="0.7"/>
<path d="M-53,13.05 L-74.6,13.05 Q-78.2,13.05 -78.7,9.2" fill="none" stroke="#000" stroke-width="1.15"/>
<line x1="-53" y1="13.05" x2="-53" y2="7.9" stroke="#111" stroke-width="0.7"/>
<line x1="-78.9" y1="7.9" x2="-53" y2="7.9" stroke="#222" stroke-width="0.6"/>
<path d="M-53,13.05 L-34.8,12.9" fill="none" stroke="#333" stroke-width="0.55"/>
<path d="M-53,7.9 Q-45,8.3 -36.0,11.6" fill="none" stroke="#333" stroke-width="0.55"/>
</g>
<g transform="rotate(270)">
<line x1="-75.6" y1="-15.5" x2="-33.6" y2="-15.5" stroke="#444" stroke-width="0.7"/>
<path d="M-53,-13.05 L-74.6,-13.05 Q-78.2,-13.05 -78.7,-9.2" fill="none" stroke="#000" stroke-width="1.15"/>
<line x1="-53" y1="-13.05" x2="-53" y2="-7.9" stroke="#111" stroke-width="0.7"/>
<line x1="-78.9" y1="-7.9" x2="-53" y2="-7.9" stroke="#222" stroke-width="0.6"/>
<path d="M-53,-13.05 L-34.8,-12.9" fill="none" stroke="#333" stroke-width="0.55"/>
<path d="M-53,-7.9 Q-45,-8.3 -36.0,-11.6" fill="none" stroke="#333" stroke-width="0.55"/>
<line x1="-75.6" y1="15.5" x2="-33.6" y2="15.5" stroke="#444" stroke-width="0.7"/>
<path d="M-53,13.05 L-74.6,13.05 Q-78.2,13.05 -78.7,9.2" fill="none" stroke="#000" stroke-width="1.15"/>
<line x1="-53" y1="13.05" x2="-53" y2="7.9" stroke="#111" stroke-width="0.7"/>
<line x1="-78.9" y1="7.9" x2="-53" y2="7.9" stroke="#222" stroke-width="0.6"/>
<path d="M-53,13.05 L-34.8,12.9" fill="none" stroke="#333" stroke-width="0.55"/>
<path d="M-53,7.9 Q-45,8.3 -36.0,11.6" fill="none" stroke="#333" stroke-width="0.55"/>
</g>
<circle r="37.0" fill="none" stroke="#000" stroke-width="1.2"/>
<circle r="35.0" fill="none" stroke="#000" stroke-width="1.0"/>
<circle r="36.0" fill="none" stroke="#999" stroke-width="0.8"/>
<circle r="29.2" fill="none" stroke="#000" stroke-width="0.9"/>
<g transform="rotate(45)">
<rect x="-71.00" y="-13.30" width="30.20" height="10.80" rx="5.4" ry="5.4" fill="none" stroke="#222" stroke-width="0.55"/>
<rect x="-69.00" y="-11.30" width="26.20" height="6.80" rx="3.4" ry="3.4" fill="none" stroke="#222" stroke-width="0.55"/>
<rect x="-67.80" y="-10.10" width="23.80" height="4.40" rx="2.2" ry="2.2" fill="none" stroke="#111" stroke-width="1.0"/>
<line x1="-65.0" y1="-8.8" x2="-47" y2="-8.8" stroke="#777" stroke-width="0.5"/>
<line x1="-65.0" y1="-7.0" x2="-47" y2="-7.0" stroke="#777" stroke-width="0.5"/>
<rect x="-71.00" y="2.50" width="30.20" height="10.80" rx="5.4" ry="5.4" fill="none" stroke="#222" stroke-width="0.55"/>
<rect x="-69.00" y="4.50" width="26.20" height="6.80" rx="3.4" ry="3.4" fill="none" stroke="#222" stroke-width="0.55"/>
<rect x="-67.80" y="5.70" width="23.80" height="4.40" rx="2.2" ry="2.2" fill="none" stroke="#111" stroke-width="1.0"/>
<line x1="-65.0" y1="7.0" x2="-47" y2="7.0" stroke="#777" stroke-width="0.5"/>
<line x1="-65.0" y1="8.8" x2="-47" y2="8.8" stroke="#777" stroke-width="0.5"/>
</g>
<g transform="rotate(135)">
<rect x="-71.00" y="-13.30" width="30.20" height="10.80" rx="5.4" ry="5.4" fill="none" stroke="#222" stroke-width="0.55"/>
<rect x="-69.00" y="-11.30" width="26.20" height="6.80" rx="3.4" ry="3.4" fill="none" stroke="#222" stroke-width="0.55"/>
<rect x="-67.80" y="-10.10" width="23.80" height="4.40" rx="2.2" ry="2.2" fill="none" stroke="#111" stroke-width="1.0"/>
<line x1="-65.0" y1="-8.8" x2="-47" y2="-8.8" stroke="#777" stroke-width="0.5"/>
<line x1="-65.0" y1="-7.0" x2="-47" y2="-7.0" stroke="#777" stroke-width="0.5"/>
<rect x="-71.00" y="2.50" width="30.20" height="10.80" rx="5.4" ry="5.4" fill="none" stroke="#222" stroke-width="0.55"/>
<rect x="-69.00" y="4.50" width="26.20" height="6.80" rx="3.4" ry="3.4" fill="none" stroke="#222" stroke-width="0.55"/>
<rect x="-67.80" y="5.70" width="23.80" height="4.40" rx="2.2" ry="2.2" fill="none" stroke="#111" stroke-width="1.0"/>
<line x1="-65.0" y1="7.0" x2="-47" y2="7.0" stroke="#777" stroke-width="0.5"/>
<line x1="-65.0" y1="8.8" x2="-47" y2="8.8" stroke="#777" stroke-width="0.5"/>
</g>
<g transform="rotate(225)">
<rect x="-71.00" y="-13.30" width="30.20" height="10.80" rx="5.4" ry="5.4" fill="none" stroke="#222" stroke-width="0.55"/>
<rect x="-69.00" y="-11.30" width="26.20" height="6.80" rx="3.4" ry="3.4" fill="none" stroke="#222" stroke-width="0.55"/>
<rect x="-67.80" y="-10.10" width="23.80" height="4.40" rx="2.2" ry="2.2" fill="none" stroke="#111" stroke-width="1.0"/>
<line x1="-65.0" y1="-8.8" x2="-47" y2="-8.8" stroke="#777" stroke-width="0.5"/>
<line x1="-65.0" y1="-7.0" x2="-47" y2="-7.0" stroke="#777" stroke-width="0.5"/>
<rect x="-71.00" y="2.50" width="30.20" height="10.80" rx="5.4" ry="5.4" fill="none" stroke="#222" stroke-width="0.55"/>
<rect x="-69.00" y="4.50" width="26.20" height="6.80" rx="3.4" ry="3.4" fill="none" stroke="#222" stroke-width="0.55"/>
<rect x="-67.80" y="5.70" width="23.80" height="4.40" rx="2.2" ry="2.2" fill="none" stroke="#111" stroke-width="1.0"/>
<line x1="-65.0" y1="7.0" x2="-47" y2="7.0" stroke="#777" stroke-width="0.5"/>
<line x1="-65.0" y1="8.8" x2="-47" y2="8.8" stroke="#777" stroke-width="0.5"/>
</g>
<g transform="rotate(315)">
<rect x="-71.00" y="-13.30" width="30.20" height="10.80" rx="5.4" ry="5.4" fill="none" stroke="#222" stroke-width="0.55"/>
<rect x="-69.00" y="-11.30" width="26.20" height="6.80" rx="3.4" ry="3.4" fill="none" stroke="#222" stroke-width="0.55"/>
<rect x="-67.80" y="-10.10" width="23.80" height="4.40" rx="2.2" ry="2.2" fill="none" stroke="#111" stroke-width="1.0"/>
<line x1="-65.0" y1="-8.8" x2="-47" y2="-8.8" stroke="#777" stroke-width="0.5"/>
<line x1="-65.0" y1="-7.0" x2="-47" y2="-7.0" stroke="#777" stroke-width="0.5"/>
<rect x="-71.00" y="2.50" width="30.20" height="10.80" rx="5.4" ry="5.4" fill="none" stroke="#222" stroke-width="0.55"/>
<rect x="-69.00" y="4.50" width="26.20" height="6.80" rx="3.4" ry="3.4" fill="none" stroke="#222" stroke-width="0.55"/>
<rect x="-67.80" y="5.70" width="23.80" height="4.40" rx="2.2" ry="2.2" fill="none" stroke="#111" stroke-width="1.0"/>
<line x1="-65.0" y1="7.0" x2="-47" y2="7.0" stroke="#777" stroke-width="0.5"/>
<line x1="-65.0" y1="8.8" x2="-47" y2="8.8" stroke="#777" stroke-width="0.5"/>
</g>
</g>
<line x1="226" y1="391.4" x2="401.8" y2="391.4" stroke="#111" stroke-width="0.6" stroke-dasharray="84.5 2 4.7 2" stroke-dashoffset="47.65"/>
<line x1="314.4" y1="304.0" x2="314.4" y2="479.6" stroke="#111" stroke-width="0.6" stroke-dasharray="84.5 2 4.7 2" stroke-dashoffset="47.65"/>
<path d="M309.0,458.3 A5.4,6.3 0 0 1 319.79999999999995,458.3 Z" fill="#000"/>
<ellipse cx="314.4" cy="456.7" rx="2.1" ry="0.9" fill="#fff"/>
<line x1="304.63" y1="418.92" x2="346.00" y2="302.40" stroke="#000" stroke-width="0.85" />
<line x1="346.00" y1="302.40" x2="374.00" y2="302.40" stroke="#000" stroke-width="0.85" />
<text x="350.60" y="297.20" font-family="Liberation Sans" font-size="15.2" font-weight="normal" text-anchor="start" fill="#000" textLength="23.30" lengthAdjust="spacingAndGlyphs" >ø440</text>
<line x1="302.33" y1="418.31" x2="306.93" y2="419.52" stroke="#000" stroke-width="0.6" />
<line x1="321.87" y1="363.28" x2="326.47" y2="364.49" stroke="#000" stroke-width="0.6" />
<line x1="290.00" y1="419.21" x2="374.50" y2="322.90" stroke="#000" stroke-width="0.85" />
<line x1="374.50" y1="322.90" x2="402.80" y2="322.90" stroke="#000" stroke-width="0.85" />
<text x="379.40" y="317.40" font-family="Liberation Sans" font-size="15.2" font-weight="normal" text-anchor="start" fill="#000" textLength="23.30" lengthAdjust="spacingAndGlyphs" >ø560</text>
<line x1="288.04" y1="418.03" x2="291.95" y2="420.40" stroke="#000" stroke-width="0.6" />
<line x1="336.85" y1="362.40" x2="340.76" y2="364.77" stroke="#000" stroke-width="0.6" />
<line x1="238.22" y1="423.07" x2="430.80" y2="343.00" stroke="#000" stroke-width="0.85" />
<line x1="240.03" y1="419.53" x2="242.61" y2="424.05" stroke="#000" stroke-width="0.6" />
<line x1="386.19" y1="358.75" x2="388.77" y2="363.27" stroke="#000" stroke-width="0.6" />
<text x="411.80" y="346.30" font-family="Liberation Sans" font-size="15.2" font-weight="normal" text-anchor="middle" fill="#000" textLength="29.20" lengthAdjust="spacingAndGlyphs" transform="rotate(-22.58 411.80 346.30)" >ø1199</text>
<g transform="translate(652.5 391.5)">
<circle r="79.1" fill="none" stroke="#000" stroke-width="1.3"/>
<circle r="72.2" fill="none" stroke="#222" stroke-width="0.65"/>
<path d="M6.50,-56.53 A56.9,56.9 0 0 1 6.50,56.53" fill="none" stroke="#1a1a1a" stroke-width="0.6"/>
<path d="M-6.50,-56.53 A56.9,56.9 0 0 0 -6.50,56.53" fill="none" stroke="#1a1a1a" stroke-width="0.6"/>
<path d="M6.50,-54.72 A55.1,55.1 0 0 1 6.50,54.72" fill="none" stroke="#1a1a1a" stroke-width="0.6"/>
<path d="M-6.50,-54.72 A55.1,55.1 0 0 0 -6.50,54.72" fill="none" stroke="#1a1a1a" stroke-width="0.6"/>
<path d="M6.50,-49.37 A49.8,49.8 0 0 1 6.50,49.37" fill="none" stroke="#1a1a1a" stroke-width="0.6"/>
<path d="M-6.50,-49.37 A49.8,49.8 0 0 0 -6.50,49.37" fill="none" stroke="#1a1a1a" stroke-width="0.6"/>
<path d="M6.50,-47.56 A48.0,48.0 0 0 1 6.50,47.56" fill="none" stroke="#1a1a1a" stroke-width="0.6"/>
<path d="M-6.50,-47.56 A48.0,48.0 0 0 0 -6.50,47.56" fill="none" stroke="#1a1a1a" stroke-width="0.6"/>
<path d="M6.50,-36.53 A37.1,37.1 0 0 1 6.50,36.53" fill="none" stroke="#1a1a1a" stroke-width="0.6"/>
<path d="M-6.50,-36.53 A37.1,37.1 0 0 0 -6.50,36.53" fill="none" stroke="#1a1a1a" stroke-width="0.6"/>
<path d="M6.50,-34.80 A35.4,35.4 0 0 1 6.50,34.80" fill="none" stroke="#1a1a1a" stroke-width="0.6"/>
<path d="M-6.50,-34.80 A35.4,35.4 0 0 0 -6.50,34.80" fill="none" stroke="#1a1a1a" stroke-width="0.6"/>
<path d="M6.50,-29.29 A30.0,30.0 0 0 1 6.50,29.29" fill="none" stroke="#1a1a1a" stroke-width="0.6"/>
<path d="M-6.50,-29.29 A30.0,30.0 0 0 0 -6.50,29.29" fill="none" stroke="#1a1a1a" stroke-width="0.6"/>
<path d="M6.50,-27.44 A28.2,28.2 0 0 1 6.50,27.44" fill="none" stroke="#1a1a1a" stroke-width="0.6"/>
<path d="M-6.50,-27.44 A28.2,28.2 0 0 0 -6.50,27.44" fill="none" stroke="#1a1a1a" stroke-width="0.6"/>
<rect x="-6.5" y="-77.2" width="13.0" height="154.4" rx="3.2" ry="3.2" fill="#8c8c8c" stroke="#1a1a1a" stroke-width="0.9"/>
<rect x="-3.1" y="-75.6" width="6.2" height="151.2" rx="2.2" ry="2.2" fill="#fff" stroke="#444" stroke-width="0.6"/>
<path d="M-7.40,-55.02 L-6.30,-55.02 Q-3.90,-54.32 -3.90,-52.04 Q-3.90,-49.77 -6.30,-49.07 L-7.40,-49.07 Z" fill="#fff" stroke="none"/>
<path d="M-6.70,-55.02 Q-3.90,-54.32 -3.90,-52.04 Q-3.90,-49.77 -6.70,-49.07" fill="none" stroke="#111" stroke-width="0.9"/>
<path d="M-7.40,55.02 L-6.30,55.02 Q-3.90,54.32 -3.90,52.04 Q-3.90,49.77 -6.30,49.07 L-7.40,49.07 Z" fill="#fff" stroke="none"/>
<path d="M-6.70,55.02 Q-3.90,54.32 -3.90,52.04 Q-3.90,49.77 -6.70,49.07" fill="none" stroke="#111" stroke-width="0.9"/>
<path d="M7.40,-55.02 L6.30,-55.02 Q3.90,-54.32 3.90,-52.04 Q3.90,-49.77 6.30,-49.07 L7.40,-49.07 Z" fill="#fff" stroke="none"/>
<path d="M6.70,-55.02 Q3.90,-54.32 3.90,-52.04 Q3.90,-49.77 6.70,-49.07" fill="none" stroke="#111" stroke-width="0.9"/>
<path d="M7.40,55.02 L6.30,55.02 Q3.90,54.32 3.90,52.04 Q3.90,49.77 6.30,49.07 L7.40,49.07 Z" fill="#fff" stroke="none"/>
<path d="M6.70,55.02 Q3.90,54.32 3.90,52.04 Q3.90,49.77 6.70,49.07" fill="none" stroke="#111" stroke-width="0.9"/>
<path d="M-7.40,-35.10 L-6.30,-35.10 Q-3.90,-34.40 -3.90,-32.04 Q-3.90,-29.69 -6.30,-28.99 L-7.40,-28.99 Z" fill="#fff" stroke="none"/>
<path d="M-6.70,-35.10 Q-3.90,-34.40 -3.90,-32.04 Q-3.90,-29.69 -6.70,-28.99" fill="none" stroke="#111" stroke-width="0.9"/>
<path d="M-7.40,35.10 L-6.30,35.10 Q-3.90,34.40 -3.90,32.04 Q-3.90,29.69 -6.30,28.99 L-7.40,28.99 Z" fill="#fff" stroke="none"/>
<path d="M-6.70,35.10 Q-3.90,34.40 -3.90,32.04 Q-3.90,29.69 -6.70,28.99" fill="none" stroke="#111" stroke-width="0.9"/>
<path d="M7.40,-35.10 L6.30,-35.10 Q3.90,-34.40 3.90,-32.04 Q3.90,-29.69 6.30,-28.99 L7.40,-28.99 Z" fill="#fff" stroke="none"/>
<path d="M6.70,-35.10 Q3.90,-34.40 3.90,-32.04 Q3.90,-29.69 6.70,-28.99" fill="none" stroke="#111" stroke-width="0.9"/>
<path d="M7.40,35.10 L6.30,35.10 Q3.90,34.40 3.90,32.04 Q3.90,29.69 6.30,28.99 L7.40,28.99 Z" fill="#fff" stroke="none"/>
<path d="M6.70,35.10 Q3.90,34.40 3.90,32.04 Q3.90,29.69 6.70,28.99" fill="none" stroke="#111" stroke-width="0.9"/>
</g>
<line x1="565.3" y1="391.5" x2="740.2" y2="391.5" stroke="#111" stroke-width="0.6" stroke-dasharray="84.5 2 4.7 2" stroke-dashoffset="47.65"/>
<line x1="652.5" y1="304.0" x2="652.5" y2="479.2" stroke="#111" stroke-width="0.6" stroke-dasharray="84.5 2 4.7 2" stroke-dashoffset="47.65"/>
</svg>
</body></html>
